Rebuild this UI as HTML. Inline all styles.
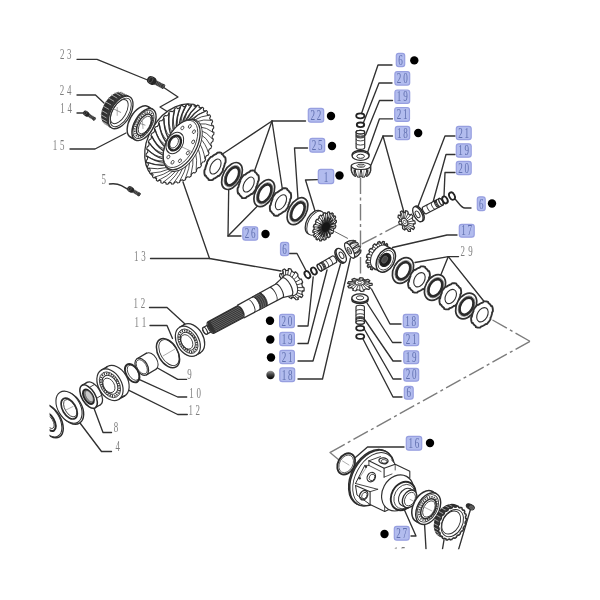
<!DOCTYPE html>
<html><head><meta charset="utf-8"><title>Differential exploded view</title>
<style>
html,body{margin:0;padding:0;background:#fff;}
body{width:600px;height:600px;overflow:hidden;font-family:"Liberation Serif",serif;}
svg{display:block;}
</style></head>
<body>
<svg width="600" height="600" viewBox="0 0 600 600">
<defs><filter id="soft" x="0" y="0" width="600" height="600" filterUnits="userSpaceOnUse"><feGaussianBlur stdDeviation="0.45"/></filter></defs>
<rect x="0" y="0" width="600" height="600" fill="#ffffff"/>
<g filter="url(#soft)">
<defs><clipPath id="cutl"><rect x="49.6" y="380" width="60" height="80"/></clipPath><clipPath id="cutb"><rect x="380" y="500" width="120" height="49.3"/></clipPath><clipPath id="cutall"><rect x="0" y="0" width="600" height="549.3"/></clipPath></defs>
<g clip-path="url(#cutall)">
<polyline points="77,59.3 97,59.3 150,81" fill="none" stroke="#303030" stroke-width="1.35" stroke-linejoin="round" stroke-linecap="round" />
<polyline points="163,87 178,97 160,107 168,112" fill="none" stroke="#303030" stroke-width="1.35" stroke-linejoin="round" stroke-linecap="round" />
<polyline points="77,95 95.5,95 104,103" fill="none" stroke="#303030" stroke-width="1.35" stroke-linejoin="round" stroke-linecap="round" />
<polyline points="77,113 84,113" fill="none" stroke="#303030" stroke-width="1.35" stroke-linejoin="round" stroke-linecap="round" />
<polyline points="70,149 95,149 126,133" fill="none" stroke="#303030" stroke-width="1.35" stroke-linejoin="round" stroke-linecap="round" />
<path d="M109.4,184 C114,183.4 118,183.8 121.4,185.6 L128,189.4" fill="none" stroke="#303030" stroke-width="1.35" stroke-linejoin="round" stroke-linecap="round" />
<polyline points="183,182 209.5,258.5" fill="none" stroke="#303030" stroke-width="1.35" stroke-linejoin="round" stroke-linecap="round" />
<polyline points="150.5,258.5 209.5,258.5 281,271" fill="none" stroke="#303030" stroke-width="1.35" stroke-linejoin="round" stroke-linecap="round" />
<polyline points="149.5,307.5 167,307.5 185,324" fill="none" stroke="#303030" stroke-width="1.35" stroke-linejoin="round" stroke-linecap="round" />
<polyline points="150,325.5 167,325.5 172.5,338.5" fill="none" stroke="#303030" stroke-width="1.35" stroke-linejoin="round" stroke-linecap="round" />
<polyline points="157.5,368 177.7,379.3 186.6,379.3" fill="none" stroke="#303030" stroke-width="1.35" stroke-linejoin="round" stroke-linecap="round" />
<polyline points="139,379.3 177.7,397 186.7,397" fill="none" stroke="#303030" stroke-width="1.35" stroke-linejoin="round" stroke-linecap="round" />
<polyline points="128,389.9 177.7,414.5 187.3,414.5" fill="none" stroke="#303030" stroke-width="1.35" stroke-linejoin="round" stroke-linecap="round" />
<polyline points="93.5,407 103,432.5 111.5,432.5" fill="none" stroke="#303030" stroke-width="1.35" stroke-linejoin="round" stroke-linecap="round" />
<polyline points="80,423 101.5,451.5 111.5,451.5" fill="none" stroke="#303030" stroke-width="1.35" stroke-linejoin="round" stroke-linecap="round" />
<polyline points="305.5,121 272,121 222.5,154" fill="none" stroke="#303030" stroke-width="1.35" stroke-linejoin="round" stroke-linecap="round" />
<polyline points="272,121 254.5,171" fill="none" stroke="#303030" stroke-width="1.35" stroke-linejoin="round" stroke-linecap="round" />
<polyline points="272,121 282.5,190" fill="none" stroke="#303030" stroke-width="1.35" stroke-linejoin="round" stroke-linecap="round" />
<polyline points="307.5,148 294.5,148 298,199" fill="none" stroke="#303030" stroke-width="1.35" stroke-linejoin="round" stroke-linecap="round" />
<polyline points="317.5,179.7 305.5,180 315,211" fill="none" stroke="#303030" stroke-width="1.35" stroke-linejoin="round" stroke-linecap="round" />
<polyline points="241,236 228,236 228.7,189" fill="none" stroke="#303030" stroke-width="1.35" stroke-linejoin="round" stroke-linecap="round" />
<polyline points="228,236 257.5,206" fill="none" stroke="#303030" stroke-width="1.35" stroke-linejoin="round" stroke-linecap="round" />
<polyline points="289.5,253.5 297,253.5 307,272.5" fill="none" stroke="#303030" stroke-width="1.35" stroke-linejoin="round" stroke-linecap="round" />
<polyline points="298,326 308,326 313.2,277" fill="none" stroke="#303030" stroke-width="1.35" stroke-linejoin="round" stroke-linecap="round" />
<polyline points="298,343.5 308,343.5 327,270" fill="none" stroke="#303030" stroke-width="1.35" stroke-linejoin="round" stroke-linecap="round" />
<polyline points="298,361 313,361 340.5,264" fill="none" stroke="#303030" stroke-width="1.35" stroke-linejoin="round" stroke-linecap="round" />
<polyline points="298,379 322.5,379 350.5,258" fill="none" stroke="#303030" stroke-width="1.35" stroke-linejoin="round" stroke-linecap="round" />
<polyline points="371.5,289 390,324 401,324" fill="none" stroke="#303030" stroke-width="1.35" stroke-linejoin="round" stroke-linecap="round" />
<polyline points="367,303 392.5,342.5 401,342.5" fill="none" stroke="#303030" stroke-width="1.35" stroke-linejoin="round" stroke-linecap="round" />
<polyline points="365,320 393,361 401,361" fill="none" stroke="#303030" stroke-width="1.35" stroke-linejoin="round" stroke-linecap="round" />
<polyline points="364.5,329.5 393,379 401,379" fill="none" stroke="#303030" stroke-width="1.35" stroke-linejoin="round" stroke-linecap="round" />
<polyline points="362.5,338 393,397 402,397" fill="none" stroke="#303030" stroke-width="1.35" stroke-linejoin="round" stroke-linecap="round" />
<polyline points="392,65 378,65 361.5,113.5" fill="none" stroke="#303030" stroke-width="1.35" stroke-linejoin="round" stroke-linecap="round" />
<polyline points="392,83 379,83 363.5,122.5" fill="none" stroke="#303030" stroke-width="1.35" stroke-linejoin="round" stroke-linecap="round" />
<polyline points="392.5,100.5 379.5,100.5 365.5,135" fill="none" stroke="#303030" stroke-width="1.35" stroke-linejoin="round" stroke-linecap="round" />
<polyline points="392.5,118.8 379.5,118.8 367.5,152.5" fill="none" stroke="#303030" stroke-width="1.35" stroke-linejoin="round" stroke-linecap="round" />
<polyline points="392.5,136 383,136 371,165" fill="none" stroke="#303030" stroke-width="1.35" stroke-linejoin="round" stroke-linecap="round" />
<polyline points="383,136 404,212.5" fill="none" stroke="#303030" stroke-width="1.35" stroke-linejoin="round" stroke-linecap="round" />
<polyline points="455,136 445,136 417,209" fill="none" stroke="#303030" stroke-width="1.35" stroke-linejoin="round" stroke-linecap="round" />
<polyline points="455,154.5 446,154.5 432.5,204" fill="none" stroke="#303030" stroke-width="1.35" stroke-linejoin="round" stroke-linecap="round" />
<polyline points="455,172.5 445,172.5 444,196" fill="none" stroke="#303030" stroke-width="1.35" stroke-linejoin="round" stroke-linecap="round" />
<path d="M455.5,199.5 C459,203 461,208 465,208 L471,208" fill="none" stroke="#303030" stroke-width="1.35" stroke-linejoin="round" stroke-linecap="round" />
<polyline points="457,235 447,235 392.5,247.5" fill="none" stroke="#303030" stroke-width="1.35" stroke-linejoin="round" stroke-linecap="round" />
<polyline points="458.5,256.6 448.3,256.6 415,262.5" fill="none" stroke="#303030" stroke-width="1.35" stroke-linejoin="round" stroke-linecap="round" />
<polyline points="448.3,256.6 441,274.5" fill="none" stroke="#303030" stroke-width="1.35" stroke-linejoin="round" stroke-linecap="round" />
<polyline points="448.3,256.6 484.5,302" fill="none" stroke="#303030" stroke-width="1.35" stroke-linejoin="round" stroke-linecap="round" />
<polyline points="404,447 367.5,447 352.5,460" fill="none" stroke="#303030" stroke-width="1.35" stroke-linejoin="round" stroke-linecap="round" />
<polyline points="411,536 416,536 404,509" fill="none" stroke="#303030" stroke-width="1.35" stroke-linejoin="round" stroke-linecap="round" />
<polyline points="424.5,523 426,549" fill="none" stroke="#303030" stroke-width="1.35" stroke-linejoin="round" stroke-linecap="round" />
<polyline points="444,540 442.5,549" fill="none" stroke="#303030" stroke-width="1.35" stroke-linejoin="round" stroke-linecap="round" />
<polyline points="470.3,510 458.5,549.6" fill="none" stroke="#303030" stroke-width="1.35" stroke-linejoin="round" stroke-linecap="round" />
<polyline points="360.5,177.5 360.5,278" fill="none" stroke="#7c7c7c" stroke-width="1.4" stroke-linejoin="round" stroke-linecap="butt" stroke-dasharray="16.5 3.5 3 3.5"/>
<polyline points="400,224 361.5,244.2" fill="none" stroke="#7c7c7c" stroke-width="1.4" stroke-linejoin="round" stroke-linecap="butt" stroke-dasharray="16.5 3.5 3 3.5"/>
<polyline points="335,231.7 347.5,238.3" fill="none" stroke="#555" stroke-width="0.9" stroke-linejoin="round" stroke-linecap="round" />
<polyline points="492.5,320 530,341.3" fill="none" stroke="#7c7c7c" stroke-width="1.4" stroke-linejoin="round" stroke-linecap="butt" stroke-dasharray="16.5 3.5 3 3.5"/>
<polyline points="530,341.3 330,452.5" fill="none" stroke="#7c7c7c" stroke-width="1.4" stroke-linejoin="round" stroke-linecap="butt" stroke-dasharray="16.5 3.5 3 3.5"/>
<polyline points="330,452.5 339,460" fill="none" stroke="#7c7c7c" stroke-width="1.3" stroke-linejoin="round" stroke-linecap="round" />
<ellipse cx="177.77" cy="142.86" rx="29.3" ry="41.8" transform="rotate(31 177.77 142.86)" fill="#fff" stroke="#303030" stroke-width="1.3" />
<polyline points="205.62,159.59 204.96,160.66 204.28,161.72 202.61,161.99 201.92,162.98 201.22,163.94 201.37,165.78 200.59,166.75 199.8,167.71 198.21,167.63 197.42,168.51 196.61,169.36 196.47,171.31 195.6,172.16 194.72,172.98 193.26,172.56 192.39,173.3 191.51,174.02 191.07,176.02 190.14,176.72 189.19,177.38 187.9,176.63 186.98,177.21 186.05,177.77 185.34,179.76 184.36,180.28 183.38,180.78 182.3,179.71 181.36,180.12 180.41,180.5 179.44,182.42 178.46,182.76 177.47,183.06 176.63,181.71 175.7,181.94 174.76,182.13 173.56,183.92 172.6,184.06 171.64,184.16 171.07,182.58 170.16,182.61 169.27,182.6 167.88,184.22 166.96,184.15 166.06,184.04 165.78,182.27 164.93,182.11 164.1,181.91 162.56,183.29 161.73,183.02 160.9,182.72 160.92,180.81 160.16,180.46 159.42,180.07 157.78,181.18 157.04,180.72 156.33,180.23 156.63,178.24 155.99,177.71 155.36,177.15 153.67,177.95 153.06,177.31 152.47,176.64 153.06,174.63 152.54,173.94 152.05,173.22 150.36,173.69 149.89,172.89 149.45,172.06 150.31,170.1 149.94,169.27 149.59,168.41 147.95,168.53 147.64,167.6 147.36,166.64 148.46,164.78 148.24,163.83 148.05,162.86 146.51,162.64 146.37,161.59 146.26,160.54 147.57,158.84 147.51,157.8 147.49,156.75 146.09,156.18 146.12,155.06 146.18,153.94 147.66,152.45 147.77,151.36 147.91,150.25 146.7,149.36 146.91,148.2 147.13,147.04 148.73,145.81 149.01,144.69 149.31,143.58 148.33,142.38 148.69,141.22 149.09,140.06 150.76,139.12 151.19,138.02 151.64,136.92 150.91,135.46 151.43,134.33 151.98,133.21 153.67,132.59 154.24,131.53 154.83,130.48 154.38,128.81 155.04,127.74 155.72,126.68 157.39,126.41 158.08,125.42 158.78,124.46 158.63,122.62 159.41,121.65 160.2,120.69 161.79,120.77 162.58,119.89 163.39,119.04 163.53,117.09 164.4,116.24 165.28,115.42 166.74,115.84 167.61,115.1 168.49,114.38 168.93,112.38 169.86,111.68 170.81,111.02 172.1,111.77 173.02,111.19 173.95,110.63 174.66,108.64 175.64,108.12 176.62,107.62 177.7,108.69 178.64,108.28 179.59,107.9 180.56,105.98 181.54,105.64 182.53,105.34 183.37,106.69 184.3,106.46 185.24,106.27 186.44,104.48 187.4,104.34 188.36,104.24 188.93,105.82 189.84,105.79 190.73,105.8 192.12,104.18 193.04,104.25 193.94,104.36 194.22,106.13 195.07,106.29 195.9,106.49 197.44,105.11 198.27,105.38 199.1,105.68 199.08,107.59 199.84,107.94 200.58,108.33 202.22,107.22 202.96,107.68 203.67,108.17 203.37,110.16 204.01,110.69 204.64,111.25 206.33,110.45 206.94,111.09 207.53,111.76 206.94,113.77 207.46,114.46 207.95,115.18 209.64,114.71 210.11,115.51 210.55,116.34 209.69,118.3 210.06,119.13 210.41,119.99 212.05,119.87 212.36,120.8 212.64,121.76 211.54,123.62 211.76,124.57 211.95,125.54 213.49,125.76 213.63,126.81 213.74,127.86 212.43,129.56 212.49,130.6 212.51,131.65 213.91,132.22 213.88,133.34 213.82,134.46 212.34,135.95 212.23,137.04 212.09,138.15 213.3,139.04 213.09,140.2 212.87,141.36 211.27,142.59 210.99,143.71 210.69,144.82 211.67,146.02 211.31,147.18 210.91,148.34 209.24,149.28 208.81,150.38 208.36,151.48 209.09,152.94 208.57,154.07 208.02,155.19 206.33,155.81 205.76,156.87 205.17,157.92 205.62,159.59" fill="#fff" stroke="#303030" stroke-width="1.1" stroke-linejoin="round" stroke-linecap="round" />
<path d="M195.49,152.14 Q197.52,159.27 196.16,170.21" fill="none" stroke="#303030" stroke-width="0.85" stroke-linejoin="round" stroke-linecap="round" />
<path d="M192.94,156.33 Q193.78,163.96 190.94,174.83" fill="none" stroke="#303030" stroke-width="0.85" stroke-linejoin="round" stroke-linecap="round" />
<path d="M190.05,160.16 Q189.65,168.06 185.4,178.52" fill="none" stroke="#303030" stroke-width="0.85" stroke-linejoin="round" stroke-linecap="round" />
<path d="M186.9,163.52 Q185.24,171.43 179.69,181.17" fill="none" stroke="#303030" stroke-width="0.85" stroke-linejoin="round" stroke-linecap="round" />
<path d="M183.59,166.31 Q180.7,173.99 173.99,182.7" fill="none" stroke="#303030" stroke-width="0.85" stroke-linejoin="round" stroke-linecap="round" />
<path d="M180.22,168.43 Q176.17,175.64 168.47,183.05" fill="none" stroke="#303030" stroke-width="0.85" stroke-linejoin="round" stroke-linecap="round" />
<path d="M176.89,169.83 Q171.77,176.35 163.31,182.23" fill="none" stroke="#303030" stroke-width="0.85" stroke-linejoin="round" stroke-linecap="round" />
<path d="M173.7,170.47 Q167.65,176.09 158.65,180.25" fill="none" stroke="#303030" stroke-width="0.85" stroke-linejoin="round" stroke-linecap="round" />
<path d="M170.76,170.32 Q163.93,174.86 154.63,177.17" fill="none" stroke="#303030" stroke-width="0.85" stroke-linejoin="round" stroke-linecap="round" />
<path d="M168.14,169.38 Q160.72,172.71 151.39,173.1" fill="none" stroke="#303030" stroke-width="0.85" stroke-linejoin="round" stroke-linecap="round" />
<path d="M165.94,167.7 Q158.13,169.69 149.02,168.14" fill="none" stroke="#303030" stroke-width="0.92" stroke-linejoin="round" stroke-linecap="round" />
<path d="M164.21,165.31 Q156.22,165.91 147.59,162.46" fill="none" stroke="#303030" stroke-width="1.04" stroke-linejoin="round" stroke-linecap="round" />
<path d="M163.62,164.09 Q156.22,165.91 147.59,162.46" fill="none" stroke="#303030" stroke-width="0.8" stroke-linejoin="round" stroke-linecap="round" />
<path d="M163,162.29 Q155.05,161.48 147.15,156.22" fill="none" stroke="#303030" stroke-width="1.16" stroke-linejoin="round" stroke-linecap="round" />
<path d="M162.66,160.83 Q155.05,161.48 147.15,156.22" fill="none" stroke="#303030" stroke-width="0.8" stroke-linejoin="round" stroke-linecap="round" />
<path d="M162.37,158.74 Q154.67,156.52 147.7,149.62" fill="none" stroke="#303030" stroke-width="1.27" stroke-linejoin="round" stroke-linecap="round" />
<path d="M162.27,157.07 Q154.67,156.52 147.7,149.62" fill="none" stroke="#303030" stroke-width="0.8" stroke-linejoin="round" stroke-linecap="round" />
<path d="M162.31,154.75 Q155.09,151.2 149.24,142.85" fill="none" stroke="#303030" stroke-width="1.37" stroke-linejoin="round" stroke-linecap="round" />
<path d="M162.47,152.94 Q155.09,151.2 149.24,142.85" fill="none" stroke="#303030" stroke-width="0.8" stroke-linejoin="round" stroke-linecap="round" />
<path d="M162.85,150.46 Q156.28,145.67 151.7,136.12" fill="none" stroke="#303030" stroke-width="1.4" stroke-linejoin="round" stroke-linecap="round" />
<path d="M163.25,148.56 Q156.28,145.67 151.7,136.12" fill="none" stroke="#303030" stroke-width="0.8" stroke-linejoin="round" stroke-linecap="round" />
<path d="M163.95,145.99 Q158.22,140.1 155.03,129.64" fill="none" stroke="#303030" stroke-width="1.4" stroke-linejoin="round" stroke-linecap="round" />
<path d="M164.59,144.05 Q158.22,140.1 155.03,129.64" fill="none" stroke="#303030" stroke-width="0.8" stroke-linejoin="round" stroke-linecap="round" />
<path d="M165.59,141.48 Q160.85,134.67 159.12,123.6" fill="none" stroke="#303030" stroke-width="1.4" stroke-linejoin="round" stroke-linecap="round" />
<path d="M166.45,139.56 Q160.85,134.67 159.12,123.6" fill="none" stroke="#303030" stroke-width="0.8" stroke-linejoin="round" stroke-linecap="round" />
<path d="M167.71,137.06 Q164.08,129.53 163.84,118.19" fill="none" stroke="#303030" stroke-width="1.4" stroke-linejoin="round" stroke-linecap="round" />
<path d="M168.76,135.23 Q164.08,129.53 163.84,118.19" fill="none" stroke="#303030" stroke-width="0.8" stroke-linejoin="round" stroke-linecap="round" />
<path d="M170.26,132.87 Q167.82,124.84 169.06,113.57" fill="none" stroke="#303030" stroke-width="1.4" stroke-linejoin="round" stroke-linecap="round" />
<path d="M171.47,131.17 Q167.82,124.84 169.06,113.57" fill="none" stroke="#303030" stroke-width="0.8" stroke-linejoin="round" stroke-linecap="round" />
<path d="M173.15,129.04 Q171.95,120.74 174.6,109.88" fill="none" stroke="#303030" stroke-width="1.4" stroke-linejoin="round" stroke-linecap="round" />
<path d="M174.48,127.53 Q171.95,120.74 174.6,109.88" fill="none" stroke="#303030" stroke-width="0.8" stroke-linejoin="round" stroke-linecap="round" />
<path d="M176.3,125.68 Q176.36,117.37 180.31,107.23" fill="none" stroke="#303030" stroke-width="1.4" stroke-linejoin="round" stroke-linecap="round" />
<path d="M177.71,124.41 Q176.36,117.37 180.31,107.23" fill="none" stroke="#303030" stroke-width="0.8" stroke-linejoin="round" stroke-linecap="round" />
<path d="M179.61,122.89 Q180.9,114.81 186.01,105.7" fill="none" stroke="#303030" stroke-width="1.4" stroke-linejoin="round" stroke-linecap="round" />
<path d="M181.06,121.9 Q180.9,114.81 186.01,105.7" fill="none" stroke="#303030" stroke-width="0.8" stroke-linejoin="round" stroke-linecap="round" />
<path d="M182.98,120.77 Q185.43,113.16 191.53,105.35" fill="none" stroke="#303030" stroke-width="1.36" stroke-linejoin="round" stroke-linecap="round" />
<path d="M184.42,120.08 Q185.43,113.16 191.53,105.35" fill="none" stroke="#303030" stroke-width="0.8" stroke-linejoin="round" stroke-linecap="round" />
<path d="M186.31,119.37 Q189.83,112.45 196.69,106.17" fill="none" stroke="#303030" stroke-width="1.26" stroke-linejoin="round" stroke-linecap="round" />
<path d="M187.7,119 Q189.83,112.45 196.69,106.17" fill="none" stroke="#303030" stroke-width="0.8" stroke-linejoin="round" stroke-linecap="round" />
<path d="M189.5,118.73 Q193.95,112.71 201.35,108.15" fill="none" stroke="#303030" stroke-width="1.15" stroke-linejoin="round" stroke-linecap="round" />
<path d="M190.8,118.7 Q193.95,112.71 201.35,108.15" fill="none" stroke="#303030" stroke-width="0.8" stroke-linejoin="round" stroke-linecap="round" />
<path d="M192.44,118.88 Q197.67,113.94 205.37,111.23" fill="none" stroke="#303030" stroke-width="1.03" stroke-linejoin="round" stroke-linecap="round" />
<path d="M193.61,119.19 Q197.67,113.94 205.37,111.23" fill="none" stroke="#303030" stroke-width="0.8" stroke-linejoin="round" stroke-linecap="round" />
<path d="M195.06,119.82 Q200.88,116.09 208.61,115.3" fill="none" stroke="#303030" stroke-width="0.91" stroke-linejoin="round" stroke-linecap="round" />
<path d="M197.26,121.5 Q203.47,119.11 210.98,120.26" fill="none" stroke="#303030" stroke-width="0.85" stroke-linejoin="round" stroke-linecap="round" />
<path d="M198.99,123.89 Q205.38,122.89 212.41,125.94" fill="none" stroke="#303030" stroke-width="0.85" stroke-linejoin="round" stroke-linecap="round" />
<path d="M200.2,126.91 Q206.55,127.32 212.85,132.18" fill="none" stroke="#303030" stroke-width="0.85" stroke-linejoin="round" stroke-linecap="round" />
<path d="M200.83,130.46 Q206.93,132.28 212.3,138.78" fill="none" stroke="#303030" stroke-width="0.85" stroke-linejoin="round" stroke-linecap="round" />
<path d="M200.89,134.45 Q206.51,137.6 210.76,145.55" fill="none" stroke="#303030" stroke-width="0.85" stroke-linejoin="round" stroke-linecap="round" />
<path d="M200.35,138.74 Q205.32,143.13 208.3,152.28" fill="none" stroke="#303030" stroke-width="0.85" stroke-linejoin="round" stroke-linecap="round" />
<path d="M199.25,143.21 Q203.38,148.7 204.97,158.76" fill="none" stroke="#303030" stroke-width="0.85" stroke-linejoin="round" stroke-linecap="round" />
<path d="M197.61,147.72 Q200.75,154.13 200.88,164.8" fill="none" stroke="#303030" stroke-width="0.85" stroke-linejoin="round" stroke-linecap="round" />
<ellipse cx="182.97" cy="145.42" rx="15.6" ry="28.4" transform="rotate(28.5 182.97 145.42)" fill="#fff" stroke="#303030" stroke-width="0.9" />
<ellipse cx="181.6" cy="144.6" rx="15" ry="27.4" transform="rotate(28.5 181.6 144.6)" fill="#fff" stroke="#303030" stroke-width="1.3" />
<ellipse cx="180.49" cy="143.93" rx="13.8" ry="25.8" transform="rotate(28.5 180.49 143.93)" fill="none" stroke="#303030" stroke-width="0.8" />
<ellipse cx="187.84" cy="152.93" rx="1.3" ry="2" transform="rotate(28.5 187.84 152.93)" fill="none" stroke="#303030" stroke-width="0.8" />
<ellipse cx="179.94" cy="160.75" rx="1.3" ry="2" transform="rotate(28.5 179.94 160.75)" fill="none" stroke="#303030" stroke-width="0.8" />
<ellipse cx="172.51" cy="162.3" rx="1.3" ry="2" transform="rotate(28.5 172.51 162.3)" fill="none" stroke="#303030" stroke-width="0.8" />
<ellipse cx="168.39" cy="156.99" rx="1.3" ry="2" transform="rotate(28.5 168.39 156.99)" fill="none" stroke="#303030" stroke-width="0.8" />
<ellipse cx="169.15" cy="146.86" rx="1.3" ry="2" transform="rotate(28.5 169.15 146.86)" fill="none" stroke="#303030" stroke-width="0.8" />
<ellipse cx="174.51" cy="135.76" rx="1.3" ry="2" transform="rotate(28.5 174.51 135.76)" fill="none" stroke="#303030" stroke-width="0.8" />
<ellipse cx="182.4" cy="127.94" rx="1.3" ry="2" transform="rotate(28.5 182.4 127.94)" fill="none" stroke="#303030" stroke-width="0.8" />
<ellipse cx="189.83" cy="126.39" rx="1.3" ry="2" transform="rotate(28.5 189.83 126.39)" fill="none" stroke="#303030" stroke-width="0.8" />
<ellipse cx="193.95" cy="131.69" rx="1.3" ry="2" transform="rotate(28.5 193.95 131.69)" fill="none" stroke="#303030" stroke-width="0.8" />
<ellipse cx="193.19" cy="141.83" rx="1.3" ry="2" transform="rotate(28.5 193.19 141.83)" fill="none" stroke="#303030" stroke-width="0.8" />
<ellipse cx="174.8" cy="143" rx="8" ry="11.4" transform="rotate(28.5 174.8 143)" fill="#fff" stroke="#303030" stroke-width="1" />
<ellipse cx="174.8" cy="143" rx="5.6" ry="7.8" transform="rotate(28.5 174.8 143)" fill="#fff" stroke="#262626" stroke-width="2.4" />
<ellipse cx="174.11" cy="142.59" rx="3.8" ry="5.8" transform="rotate(28.5 174.11 142.59)" fill="none" stroke="#303030" stroke-width="0.8" />
<polyline points="178.8,145.5 192.8,152" fill="none" stroke="#666" stroke-width="0.6" stroke-linejoin="round" stroke-linecap="round" />
<ellipse cx="113.77" cy="108.4" rx="9.7" ry="17.2" transform="rotate(30 113.77 108.4)" fill="#2e2e2e" stroke="#303030" stroke-width="1.2" />
<ellipse cx="116.37" cy="109.9" rx="9.7" ry="17.6" transform="rotate(30 116.37 109.9)" fill="#333" stroke="#303030" stroke-width="1" />
<ellipse cx="118.53" cy="111.15" rx="9.7" ry="18" transform="rotate(30 118.53 111.15)" fill="#3a3a3a" stroke="#303030" stroke-width="1" />
<polyline points="103.96,123.51 109.16,126.51" fill="none" stroke="#b0b0b0" stroke-width="0.9" stroke-linejoin="round" stroke-linecap="round" />
<polyline points="102.14,121.51 107.34,124.51" fill="none" stroke="#b0b0b0" stroke-width="0.9" stroke-linejoin="round" stroke-linecap="round" />
<polyline points="101.13,118.53 106.33,121.53" fill="none" stroke="#b0b0b0" stroke-width="0.9" stroke-linejoin="round" stroke-linecap="round" />
<polyline points="101,114.8 106.19,117.8" fill="none" stroke="#b0b0b0" stroke-width="0.9" stroke-linejoin="round" stroke-linecap="round" />
<polyline points="101.76,110.57 106.95,113.57" fill="none" stroke="#b0b0b0" stroke-width="0.9" stroke-linejoin="round" stroke-linecap="round" />
<polyline points="103.35,106.17 108.55,109.17" fill="none" stroke="#b0b0b0" stroke-width="0.9" stroke-linejoin="round" stroke-linecap="round" />
<polyline points="105.67,101.91 110.86,104.91" fill="none" stroke="#b0b0b0" stroke-width="0.9" stroke-linejoin="round" stroke-linecap="round" />
<polyline points="108.54,98.1 113.73,101.1" fill="none" stroke="#b0b0b0" stroke-width="0.9" stroke-linejoin="round" stroke-linecap="round" />
<polyline points="111.75,95.01 116.94,98.01" fill="none" stroke="#b0b0b0" stroke-width="0.9" stroke-linejoin="round" stroke-linecap="round" />
<polyline points="115.07,92.88 120.26,95.88" fill="none" stroke="#b0b0b0" stroke-width="0.9" stroke-linejoin="round" stroke-linecap="round" />
<polyline points="118.25,91.86 123.45,94.86" fill="none" stroke="#b0b0b0" stroke-width="0.9" stroke-linejoin="round" stroke-linecap="round" />
<polyline points="121.08,92.01 126.27,95.01" fill="none" stroke="#b0b0b0" stroke-width="0.9" stroke-linejoin="round" stroke-linecap="round" />
<ellipse cx="120.7" cy="112.4" rx="9.7" ry="18" transform="rotate(30 120.7 112.4)" fill="#fff" stroke="#303030" stroke-width="1.3" />
<ellipse cx="120.7" cy="112.4" rx="8.1" ry="15.8" transform="rotate(30 120.7 112.4)" fill="none" stroke="#303030" stroke-width="0.9" />
<ellipse cx="119.31" cy="111.6" rx="6.7" ry="13.4" transform="rotate(30 119.31 111.6)" fill="none" stroke="#303030" stroke-width="0.9" />
<path d="M120.7,112.4 l-7,-3.5" fill="none" stroke="#666" stroke-width="0.7" stroke-linejoin="round" stroke-linecap="round" />
<path d="M117.2,107.4 l0,8" fill="none" stroke="#777" stroke-width="0.6" stroke-linejoin="round" stroke-linecap="round" />
<ellipse cx="139.24" cy="121.85" rx="9.6" ry="17.6" transform="rotate(30 139.24 121.85)" fill="#fff" stroke="#303030" stroke-width="1.4" />
<polyline points="130.44,137.09 135.2,139.84" fill="none" stroke="#303030" stroke-width="1.35" stroke-linejoin="round" stroke-linecap="round" />
<polyline points="148.04,106.61 152.8,109.36" fill="none" stroke="#303030" stroke-width="1.35" stroke-linejoin="round" stroke-linecap="round" />
<ellipse cx="144" cy="124.6" rx="9.6" ry="17.6" transform="rotate(30 144 124.6)" fill="#fff" stroke="#303030" stroke-width="1.4" />
<ellipse cx="143.48" cy="124.3" rx="8.2" ry="15.6" transform="rotate(30 143.48 124.3)" fill="none" stroke="#303030" stroke-width="0.9" />
<ellipse cx="143.74" cy="124.45" rx="7.1" ry="13.6" transform="rotate(30 143.74 124.45)" fill="none" stroke="#444" stroke-width="1.7" stroke-dasharray="1.3 1.1"/>
<ellipse cx="144.26" cy="124.75" rx="6" ry="11.8" transform="rotate(30 144.26 124.75)" fill="#fff" stroke="#2e2e2e" stroke-width="1.5" />
<ellipse cx="144.69" cy="125" rx="4.8" ry="9.8" transform="rotate(30 144.69 125)" fill="none" stroke="#303030" stroke-width="0.8" />
<path d="M145,125.1 l-6,-2" fill="none" stroke="#666" stroke-width="0.7" stroke-linejoin="round" stroke-linecap="round" />
<path d="M142.5,121.6 l0.5,7" fill="none" stroke="#777" stroke-width="0.6" stroke-linejoin="round" stroke-linecap="round" />
<polyline points="151.7,80.5 163.22,86.49" fill="none" stroke="#343434" stroke-width="4.4" stroke-linejoin="round" stroke-linecap="butt" />
<polyline points="157.33,80.95 155.3,84.85" fill="none" stroke="#8c8c8c" stroke-width="0.5" stroke-linejoin="round" stroke-linecap="round" />
<polyline points="158.84,81.73 156.81,85.64" fill="none" stroke="#8c8c8c" stroke-width="0.5" stroke-linejoin="round" stroke-linecap="round" />
<polyline points="160.35,82.52 158.32,86.42" fill="none" stroke="#8c8c8c" stroke-width="0.5" stroke-linejoin="round" stroke-linecap="round" />
<polyline points="161.85,83.3 159.82,87.2" fill="none" stroke="#8c8c8c" stroke-width="0.5" stroke-linejoin="round" stroke-linecap="round" />
<polyline points="163.36,84.08 161.33,87.99" fill="none" stroke="#8c8c8c" stroke-width="0.5" stroke-linejoin="round" stroke-linecap="round" />
<ellipse cx="163.22" cy="86.49" rx="1.21" ry="2.2" transform="rotate(27.47 163.22 86.49)" fill="#555" stroke="#2a2a2a" stroke-width="0.8" />
<polyline points="150.99,80.13 152.41,80.87" fill="none" stroke="#262626" stroke-width="8" stroke-linejoin="round" stroke-linecap="round" />
<ellipse cx="150.81" cy="80.04" rx="1.8" ry="3.2" transform="rotate(27.47 150.81 80.04)" fill="none" stroke="#6a6a6a" stroke-width="0.6" />
<polyline points="86.2,113.6 94.33,118.96" fill="none" stroke="#343434" stroke-width="3.2" stroke-linejoin="round" stroke-linecap="butt" />
<polyline points="90.17,114.3 88.41,116.97" fill="none" stroke="#8c8c8c" stroke-width="0.5" stroke-linejoin="round" stroke-linecap="round" />
<polyline points="91.59,115.24 89.83,117.91" fill="none" stroke="#8c8c8c" stroke-width="0.5" stroke-linejoin="round" stroke-linecap="round" />
<polyline points="93.01,116.17 91.25,118.84" fill="none" stroke="#8c8c8c" stroke-width="0.5" stroke-linejoin="round" stroke-linecap="round" />
<polyline points="94.43,117.11 92.67,119.78" fill="none" stroke="#8c8c8c" stroke-width="0.5" stroke-linejoin="round" stroke-linecap="round" />
<ellipse cx="94.33" cy="118.96" rx="0.88" ry="1.6" transform="rotate(33.39 94.33 118.96)" fill="#555" stroke="#2a2a2a" stroke-width="0.8" />
<polyline points="85.53,113.16 86.87,114.04" fill="none" stroke="#262626" stroke-width="5" stroke-linejoin="round" stroke-linecap="round" />
<ellipse cx="85.37" cy="113.05" rx="1.12" ry="2" transform="rotate(33.39 85.37 113.05)" fill="none" stroke="#6a6a6a" stroke-width="0.6" />
<polyline points="130.6,189.4 139.17,194.47" fill="none" stroke="#343434" stroke-width="3.4" stroke-linejoin="round" stroke-linecap="butt" />
<polyline points="134.91,189.97 133.18,192.9" fill="none" stroke="#8c8c8c" stroke-width="0.5" stroke-linejoin="round" stroke-linecap="round" />
<polyline points="136.37,190.84 134.64,193.76" fill="none" stroke="#8c8c8c" stroke-width="0.5" stroke-linejoin="round" stroke-linecap="round" />
<polyline points="137.83,191.7 136.1,194.63" fill="none" stroke="#8c8c8c" stroke-width="0.5" stroke-linejoin="round" stroke-linecap="round" />
<polyline points="139.3,192.57 137.57,195.5" fill="none" stroke="#8c8c8c" stroke-width="0.5" stroke-linejoin="round" stroke-linecap="round" />
<ellipse cx="139.17" cy="194.47" rx="0.94" ry="1.7" transform="rotate(30.6 139.17 194.47)" fill="#555" stroke="#2a2a2a" stroke-width="0.8" />
<polyline points="129.91,188.99 131.29,189.81" fill="none" stroke="#262626" stroke-width="5.6" stroke-linejoin="round" stroke-linecap="round" />
<ellipse cx="129.74" cy="188.89" rx="1.26" ry="2.24" transform="rotate(30.6 129.74 188.89)" fill="none" stroke="#6a6a6a" stroke-width="0.6" />
<polyline points="222.89,170.6 222.24,171.73 221.53,172.81 220.77,173.85 219.97,174.83 219.13,175.74 218.05,175.95 217.21,176.66 216.36,177.3 215.49,177.85 214.62,178.32 213.75,178.69 212.75,179.81 211.85,180.01 210.98,180.1 210.13,180.09 209.33,179.97 208.56,179.75 208.29,178.6 207.67,178.21 207.11,177.72 206.61,177.14 206.17,176.48 205.79,175.75 204.86,175.51 204.61,174.58 204.45,173.59 204.36,172.54 204.36,171.44 204.43,170.3 205.24,168.96 205.46,167.84 205.75,166.72 206.12,165.59 206.55,164.46 207.04,163.35 207.11,162 207.76,160.87 208.47,159.79 209.23,158.75 210.03,157.77 210.87,156.86 211.95,156.65 212.79,155.94 213.64,155.3 214.51,154.75 215.38,154.28 216.25,153.91 217.25,152.79 218.15,152.59 219.02,152.5 219.87,152.51 220.67,152.63 221.44,152.85 221.71,154 222.33,154.39 222.89,154.88 223.39,155.46 223.83,156.12 224.21,156.85 225.14,157.09 225.39,158.02 225.55,159.01 225.64,160.06 225.64,161.16 225.57,162.3 224.76,163.64 224.54,164.76 224.25,165.88 223.88,167.01 223.45,168.14 222.96,169.25 222.89,170.6" fill="#fff" stroke="#303030" stroke-width="1.9" stroke-linejoin="round" stroke-linecap="round" />
<ellipse cx="215.44" cy="166.54" rx="4.64" ry="8.15" transform="rotate(28.6 215.44 166.54)" fill="#fff" stroke="#303030" stroke-width="1.1" />
<ellipse cx="232" cy="176" rx="8.77" ry="14.59" transform="rotate(28.6 232 176)" fill="#fff" stroke="#303030" stroke-width="1.7" />
<ellipse cx="232.35" cy="176.19" rx="5.68" ry="9.87" transform="rotate(28.6 232.35 176.19)" fill="#fff" stroke="#2a2a2a" stroke-width="2.7" />
<ellipse cx="232.35" cy="176.19" rx="6.88" ry="11.73" transform="rotate(28.6 232.35 176.19)" fill="none" stroke="#666" stroke-width="0.6" />
<polyline points="256.09,188.6 255.44,189.73 254.73,190.81 253.97,191.85 253.17,192.83 252.33,193.74 251.25,193.95 250.41,194.66 249.56,195.3 248.69,195.85 247.82,196.32 246.95,196.69 245.95,197.81 245.05,198.01 244.18,198.1 243.33,198.09 242.53,197.97 241.76,197.75 241.49,196.6 240.87,196.21 240.31,195.72 239.81,195.14 239.37,194.48 238.99,193.75 238.06,193.51 237.81,192.58 237.65,191.59 237.56,190.54 237.56,189.44 237.63,188.3 238.44,186.96 238.66,185.84 238.95,184.72 239.32,183.59 239.75,182.46 240.24,181.35 240.31,180 240.96,178.87 241.67,177.79 242.43,176.75 243.23,175.77 244.07,174.86 245.15,174.65 245.99,173.94 246.84,173.3 247.71,172.75 248.58,172.28 249.45,171.91 250.45,170.79 251.35,170.59 252.22,170.5 253.07,170.51 253.87,170.63 254.64,170.85 254.91,172 255.53,172.39 256.09,172.88 256.59,173.46 257.03,174.12 257.41,174.85 258.34,175.09 258.59,176.02 258.75,177.01 258.84,178.06 258.84,179.16 258.77,180.3 257.96,181.64 257.74,182.76 257.45,183.88 257.08,185.01 256.65,186.14 256.16,187.25 256.09,188.6" fill="#fff" stroke="#303030" stroke-width="1.9" stroke-linejoin="round" stroke-linecap="round" />
<ellipse cx="248.64" cy="184.54" rx="4.64" ry="8.15" transform="rotate(28.6 248.64 184.54)" fill="#fff" stroke="#303030" stroke-width="1.1" />
<ellipse cx="264.3" cy="193.2" rx="8.77" ry="14.59" transform="rotate(28.6 264.3 193.2)" fill="#fff" stroke="#303030" stroke-width="1.7" />
<ellipse cx="264.65" cy="193.39" rx="5.68" ry="9.87" transform="rotate(28.6 264.65 193.39)" fill="#fff" stroke="#2a2a2a" stroke-width="2.7" />
<ellipse cx="264.65" cy="193.39" rx="6.88" ry="11.73" transform="rotate(28.6 264.65 193.39)" fill="none" stroke="#666" stroke-width="0.6" />
<polyline points="288.39,206.3 287.74,207.43 287.03,208.51 286.27,209.55 285.47,210.53 284.63,211.44 283.55,211.65 282.71,212.36 281.86,213 280.99,213.55 280.12,214.02 279.25,214.39 278.25,215.51 277.35,215.71 276.48,215.8 275.63,215.79 274.83,215.67 274.06,215.45 273.79,214.3 273.17,213.91 272.61,213.42 272.11,212.84 271.67,212.18 271.29,211.45 270.36,211.21 270.11,210.28 269.95,209.29 269.86,208.24 269.86,207.14 269.93,206 270.74,204.66 270.96,203.54 271.25,202.42 271.62,201.29 272.05,200.16 272.54,199.05 272.61,197.7 273.26,196.57 273.97,195.49 274.73,194.45 275.53,193.47 276.37,192.56 277.45,192.35 278.29,191.64 279.14,191 280.01,190.45 280.88,189.98 281.75,189.61 282.75,188.49 283.65,188.29 284.52,188.2 285.37,188.21 286.17,188.33 286.94,188.55 287.21,189.7 287.83,190.09 288.39,190.58 288.89,191.16 289.33,191.82 289.71,192.55 290.64,192.79 290.89,193.72 291.05,194.71 291.14,195.76 291.14,196.86 291.07,198 290.26,199.34 290.04,200.46 289.75,201.58 289.38,202.71 288.95,203.84 288.46,204.95 288.39,206.3" fill="#fff" stroke="#303030" stroke-width="1.9" stroke-linejoin="round" stroke-linecap="round" />
<ellipse cx="280.94" cy="202.24" rx="4.64" ry="8.15" transform="rotate(28.6 280.94 202.24)" fill="#fff" stroke="#303030" stroke-width="1.1" />
<ellipse cx="297.5" cy="211.2" rx="8.77" ry="14.59" transform="rotate(28.6 297.5 211.2)" fill="#fff" stroke="#303030" stroke-width="1.7" />
<ellipse cx="297.85" cy="211.39" rx="5.68" ry="9.87" transform="rotate(28.6 297.85 211.39)" fill="#fff" stroke="#2a2a2a" stroke-width="2.7" />
<ellipse cx="297.85" cy="211.39" rx="6.88" ry="11.73" transform="rotate(28.6 297.85 211.39)" fill="none" stroke="#666" stroke-width="0.6" />
<ellipse cx="403" cy="270.5" rx="9.49" ry="13.67" transform="rotate(29.1 403 270.5)" fill="#fff" stroke="#303030" stroke-width="1.7" />
<ellipse cx="403.35" cy="270.69" rx="6.14" ry="9.25" transform="rotate(29.1 403.35 270.69)" fill="#fff" stroke="#2a2a2a" stroke-width="2.7" />
<ellipse cx="403.35" cy="270.69" rx="7.44" ry="10.99" transform="rotate(29.1 403.35 270.69)" fill="none" stroke="#666" stroke-width="0.6" />
<polyline points="427.49,284.23 426.87,285.27 426.18,286.28 425.44,287.23 424.65,288.13 423.82,288.95 422.7,289.08 421.86,289.71 421,290.27 420.12,290.75 419.23,291.14 418.34,291.44 417.35,292.46 416.42,292.59 415.5,292.61 414.62,292.54 413.77,292.37 412.96,292.1 412.61,290.97 411.94,290.54 411.33,290.03 410.77,289.44 410.27,288.77 409.85,288.03 408.86,287.73 408.55,286.81 408.32,285.83 408.18,284.81 408.12,283.74 408.14,282.65 408.91,281.4 409.08,280.33 409.33,279.26 409.65,278.19 410.05,277.13 410.51,276.08 410.51,274.77 411.13,273.73 411.82,272.72 412.56,271.77 413.35,270.87 414.18,270.05 415.3,269.92 416.14,269.29 417,268.73 417.88,268.25 418.77,267.86 419.66,267.56 420.65,266.54 421.58,266.41 422.5,266.39 423.38,266.46 424.23,266.63 425.04,266.9 425.39,268.03 426.06,268.46 426.67,268.97 427.23,269.56 427.73,270.23 428.15,270.97 429.14,271.27 429.45,272.19 429.68,273.17 429.82,274.19 429.88,275.26 429.86,276.35 429.09,277.6 428.92,278.67 428.67,279.74 428.35,280.81 427.95,281.87 427.49,282.92 427.49,284.23" fill="#fff" stroke="#303030" stroke-width="1.9" stroke-linejoin="round" stroke-linecap="round" />
<ellipse cx="419.44" cy="279.74" rx="5.02" ry="7.64" transform="rotate(29.1 419.44 279.74)" fill="#fff" stroke="#303030" stroke-width="1.1" />
<ellipse cx="435" cy="287.5" rx="9.49" ry="13.67" transform="rotate(29.1 435 287.5)" fill="#fff" stroke="#303030" stroke-width="1.7" />
<ellipse cx="435.35" cy="287.69" rx="6.14" ry="9.25" transform="rotate(29.1 435.35 287.69)" fill="#fff" stroke="#2a2a2a" stroke-width="2.7" />
<ellipse cx="435.35" cy="287.69" rx="7.44" ry="10.99" transform="rotate(29.1 435.35 287.69)" fill="none" stroke="#666" stroke-width="0.6" />
<polyline points="458.79,301.03 458.17,302.07 457.48,303.08 456.74,304.03 455.95,304.93 455.12,305.75 454,305.88 453.16,306.51 452.3,307.07 451.42,307.55 450.53,307.94 449.64,308.24 448.65,309.26 447.72,309.39 446.8,309.41 445.92,309.34 445.07,309.17 444.26,308.9 443.91,307.77 443.24,307.34 442.63,306.83 442.07,306.24 441.57,305.57 441.15,304.83 440.16,304.53 439.85,303.61 439.62,302.63 439.48,301.61 439.42,300.54 439.44,299.45 440.21,298.2 440.38,297.13 440.63,296.06 440.95,294.99 441.35,293.93 441.81,292.88 441.81,291.57 442.43,290.53 443.12,289.52 443.86,288.57 444.65,287.67 445.48,286.85 446.6,286.72 447.44,286.09 448.3,285.53 449.18,285.05 450.07,284.66 450.96,284.36 451.95,283.34 452.88,283.21 453.8,283.19 454.68,283.26 455.53,283.43 456.34,283.7 456.69,284.83 457.36,285.26 457.97,285.77 458.53,286.36 459.03,287.03 459.45,287.77 460.44,288.07 460.75,288.99 460.98,289.97 461.12,290.99 461.18,292.06 461.16,293.15 460.39,294.4 460.22,295.47 459.97,296.54 459.65,297.61 459.25,298.67 458.79,299.72 458.79,301.03" fill="#fff" stroke="#303030" stroke-width="1.9" stroke-linejoin="round" stroke-linecap="round" />
<ellipse cx="450.74" cy="296.54" rx="5.02" ry="7.64" transform="rotate(29.1 450.74 296.54)" fill="#fff" stroke="#303030" stroke-width="1.1" />
<ellipse cx="466.2" cy="306" rx="9.49" ry="13.67" transform="rotate(29.1 466.2 306)" fill="#fff" stroke="#303030" stroke-width="1.7" />
<ellipse cx="466.55" cy="306.19" rx="6.14" ry="9.25" transform="rotate(29.1 466.55 306.19)" fill="#fff" stroke="#2a2a2a" stroke-width="2.7" />
<ellipse cx="466.55" cy="306.19" rx="7.44" ry="10.99" transform="rotate(29.1 466.55 306.19)" fill="none" stroke="#666" stroke-width="0.6" />
<polyline points="490.49,319.23 489.87,320.27 489.18,321.28 488.44,322.23 487.65,323.13 486.82,323.95 485.7,324.08 484.86,324.71 484,325.27 483.12,325.75 482.23,326.14 481.34,326.44 480.35,327.46 479.42,327.59 478.5,327.61 477.62,327.54 476.77,327.37 475.96,327.1 475.61,325.97 474.94,325.54 474.33,325.03 473.77,324.44 473.27,323.77 472.85,323.03 471.86,322.73 471.55,321.81 471.32,320.83 471.18,319.81 471.12,318.74 471.14,317.65 471.91,316.4 472.08,315.33 472.33,314.26 472.65,313.19 473.05,312.13 473.51,311.08 473.51,309.77 474.13,308.73 474.82,307.72 475.56,306.77 476.35,305.87 477.18,305.05 478.3,304.92 479.14,304.29 480,303.73 480.88,303.25 481.77,302.86 482.66,302.56 483.65,301.54 484.58,301.41 485.5,301.39 486.38,301.46 487.23,301.63 488.04,301.9 488.39,303.03 489.06,303.46 489.67,303.97 490.23,304.56 490.73,305.23 491.15,305.97 492.14,306.27 492.45,307.19 492.68,308.17 492.82,309.19 492.88,310.26 492.86,311.35 492.09,312.6 491.92,313.67 491.67,314.74 491.35,315.81 490.95,316.87 490.49,317.92 490.49,319.23" fill="#fff" stroke="#303030" stroke-width="1.9" stroke-linejoin="round" stroke-linecap="round" />
<ellipse cx="482.44" cy="314.74" rx="5.02" ry="7.64" transform="rotate(29.1 482.44 314.74)" fill="#fff" stroke="#303030" stroke-width="1.1" />
<ellipse cx="314.32" cy="222.32" rx="7.6" ry="13" transform="rotate(28.6 314.32 222.32)" fill="#fff" stroke="#303030" stroke-width="1.3" />
<ellipse cx="315.9" cy="223.18" rx="7.6" ry="13" transform="rotate(28.6 315.9 223.18)" fill="#fff" stroke="#303030" stroke-width="0.9" />
<polyline points="333.71,231.37 333.34,232.03 332.95,232.67 332.53,233.3 331.41,233.22 331,233.76 330.58,234.29 330.14,234.79 330.2,236.17 329.68,236.68 329.16,237.16 328.62,237.62 327.76,236.98 327.26,237.35 326.75,237.68 326.23,238 325.83,239.48 325.25,239.76 324.68,240.01 324.1,240.23 323.63,239.13 323.11,239.26 322.59,239.37 322.08,239.44 321.27,240.8 320.73,240.81 320.19,240.79 319.66,240.73 319.64,239.33 319.19,239.22 318.74,239.07 318.31,238.9 317.22,239.93 316.79,239.67 316.37,239.38 315.97,239.05 316.41,237.57 316.09,237.22 315.79,236.85 315.5,236.45 314.3,237 314.04,236.5 313.8,235.99 313.59,235.45 314.43,234.11 314.29,233.58 314.17,233.04 314.08,232.47 312.94,232.45 312.89,231.8 312.88,231.14 312.89,230.47 313.99,229.47 314.06,228.85 314.14,228.21 314.25,227.57 313.36,226.99 313.54,226.28 313.74,225.57 313.97,224.87 315.17,224.37 315.43,223.74 315.71,223.11 316,222.5 315.49,221.43 315.86,220.77 316.25,220.13 316.67,219.5 317.79,219.58 318.2,219.04 318.62,218.51 319.06,218.01 319,216.63 319.52,216.12 320.04,215.64 320.58,215.18 321.44,215.82 321.94,215.45 322.45,215.12 322.97,214.8 323.37,213.32 323.95,213.04 324.52,212.79 325.1,212.57 325.57,213.67 326.09,213.54 326.61,213.43 327.12,213.36 327.93,212 328.47,211.99 329.01,212.01 329.54,212.07 329.56,213.47 330.01,213.58 330.46,213.73 330.89,213.9 331.98,212.87 332.41,213.13 332.83,213.42 333.23,213.75 332.79,215.23 333.11,215.58 333.41,215.95 333.7,216.35 334.9,215.8 335.16,216.3 335.4,216.81 335.61,217.35 334.77,218.69 334.91,219.22 335.03,219.76 335.12,220.33 336.26,220.35 336.31,221 336.32,221.66 336.31,222.33 335.21,223.33 335.14,223.95 335.06,224.59 334.95,225.23 335.84,225.81 335.66,226.52 335.46,227.23 335.23,227.93 334.03,228.43 333.77,229.06 333.49,229.69 333.2,230.3 333.71,231.37" fill="#fff" stroke="#303030" stroke-width="1.3" stroke-linejoin="round" stroke-linecap="round" />
<polyline points="328.81,228.7 333.12,231.04" fill="none" stroke="#303030" stroke-width="0.95" stroke-linejoin="round" stroke-linecap="round" />
<polyline points="328.29,229.52 331.62,233.4" fill="none" stroke="#303030" stroke-width="0.95" stroke-linejoin="round" stroke-linecap="round" />
<polyline points="327.66,230.25 329.85,235.49" fill="none" stroke="#303030" stroke-width="0.95" stroke-linejoin="round" stroke-linecap="round" />
<polyline points="326.97,230.85 327.88,237.24" fill="none" stroke="#303030" stroke-width="0.95" stroke-linejoin="round" stroke-linecap="round" />
<polyline points="326.22,231.31 325.78,238.56" fill="none" stroke="#303030" stroke-width="0.95" stroke-linejoin="round" stroke-linecap="round" />
<polyline points="325.46,231.6 323.64,239.42" fill="none" stroke="#303030" stroke-width="0.95" stroke-linejoin="round" stroke-linecap="round" />
<polyline points="324.71,231.72 321.53,239.78" fill="none" stroke="#303030" stroke-width="0.95" stroke-linejoin="round" stroke-linecap="round" />
<polyline points="323.99,231.65 319.55,239.62" fill="none" stroke="#303030" stroke-width="0.95" stroke-linejoin="round" stroke-linecap="round" />
<polyline points="323.35,231.41 317.75,238.96" fill="none" stroke="#303030" stroke-width="0.95" stroke-linejoin="round" stroke-linecap="round" />
<polyline points="322.79,231 316.22,237.81" fill="none" stroke="#303030" stroke-width="0.95" stroke-linejoin="round" stroke-linecap="round" />
<polyline points="322.35,230.44 315.02,236.22" fill="none" stroke="#303030" stroke-width="0.95" stroke-linejoin="round" stroke-linecap="round" />
<polyline points="322.04,229.74 314.18,234.26" fill="none" stroke="#303030" stroke-width="0.95" stroke-linejoin="round" stroke-linecap="round" />
<polyline points="321.88,228.94 313.74,231.99" fill="none" stroke="#303030" stroke-width="0.95" stroke-linejoin="round" stroke-linecap="round" />
<polyline points="321.86,228.07 313.72,229.51" fill="none" stroke="#303030" stroke-width="0.95" stroke-linejoin="round" stroke-linecap="round" />
<polyline points="321.99,227.15 314.11,226.91" fill="none" stroke="#303030" stroke-width="0.95" stroke-linejoin="round" stroke-linecap="round" />
<polyline points="322.26,226.24 314.91,224.3" fill="none" stroke="#303030" stroke-width="0.95" stroke-linejoin="round" stroke-linecap="round" />
<polyline points="322.67,225.35 316.08,221.76" fill="none" stroke="#303030" stroke-width="0.95" stroke-linejoin="round" stroke-linecap="round" />
<polyline points="323.19,224.52 317.58,219.4" fill="none" stroke="#303030" stroke-width="0.95" stroke-linejoin="round" stroke-linecap="round" />
<polyline points="323.82,223.79 319.35,217.31" fill="none" stroke="#303030" stroke-width="0.95" stroke-linejoin="round" stroke-linecap="round" />
<polyline points="324.52,223.19 321.32,215.56" fill="none" stroke="#303030" stroke-width="0.95" stroke-linejoin="round" stroke-linecap="round" />
<polyline points="325.26,222.73 323.42,214.24" fill="none" stroke="#303030" stroke-width="0.95" stroke-linejoin="round" stroke-linecap="round" />
<polyline points="326.02,222.44 325.56,213.38" fill="none" stroke="#303030" stroke-width="0.95" stroke-linejoin="round" stroke-linecap="round" />
<polyline points="326.78,222.33 327.67,213.02" fill="none" stroke="#303030" stroke-width="0.95" stroke-linejoin="round" stroke-linecap="round" />
<polyline points="327.49,222.39 329.65,213.18" fill="none" stroke="#303030" stroke-width="0.95" stroke-linejoin="round" stroke-linecap="round" />
<polyline points="328.13,222.63 331.45,213.84" fill="none" stroke="#303030" stroke-width="0.95" stroke-linejoin="round" stroke-linecap="round" />
<polyline points="328.69,223.04 332.98,214.99" fill="none" stroke="#303030" stroke-width="0.95" stroke-linejoin="round" stroke-linecap="round" />
<polyline points="329.13,223.61 334.18,216.58" fill="none" stroke="#303030" stroke-width="0.95" stroke-linejoin="round" stroke-linecap="round" />
<polyline points="329.44,224.3 335.02,218.54" fill="none" stroke="#303030" stroke-width="0.95" stroke-linejoin="round" stroke-linecap="round" />
<polyline points="329.61,225.1 335.46,220.81" fill="none" stroke="#303030" stroke-width="0.95" stroke-linejoin="round" stroke-linecap="round" />
<polyline points="329.63,225.98 335.48,223.29" fill="none" stroke="#303030" stroke-width="0.95" stroke-linejoin="round" stroke-linecap="round" />
<polyline points="329.5,226.89 335.09,225.89" fill="none" stroke="#303030" stroke-width="0.95" stroke-linejoin="round" stroke-linecap="round" />
<polyline points="329.22,227.81 334.29,228.5" fill="none" stroke="#303030" stroke-width="0.95" stroke-linejoin="round" stroke-linecap="round" />
<polyline points="328.38,228.46 331.89,230.37" fill="none" stroke="#262626" stroke-width="1.5" stroke-linejoin="round" stroke-linecap="round" />
<polyline points="327.44,229.69 329.55,233.55" fill="none" stroke="#262626" stroke-width="1.5" stroke-linejoin="round" stroke-linecap="round" />
<polyline points="326.25,230.52 326.63,235.72" fill="none" stroke="#262626" stroke-width="1.5" stroke-linejoin="round" stroke-linecap="round" />
<polyline points="324.98,230.82 323.58,236.58" fill="none" stroke="#262626" stroke-width="1.5" stroke-linejoin="round" stroke-linecap="round" />
<polyline points="323.83,230.53 320.86,235.98" fill="none" stroke="#262626" stroke-width="1.5" stroke-linejoin="round" stroke-linecap="round" />
<polyline points="322.96,229.72 318.88,234.01" fill="none" stroke="#262626" stroke-width="1.5" stroke-linejoin="round" stroke-linecap="round" />
<polyline points="322.52,228.49 317.94,230.99" fill="none" stroke="#262626" stroke-width="1.5" stroke-linejoin="round" stroke-linecap="round" />
<polyline points="322.58,227.04 318.19,227.35" fill="none" stroke="#262626" stroke-width="1.5" stroke-linejoin="round" stroke-linecap="round" />
<polyline points="323.11,225.59 319.6,223.67" fill="none" stroke="#262626" stroke-width="1.5" stroke-linejoin="round" stroke-linecap="round" />
<polyline points="324.04,224.35 321.93,220.5" fill="none" stroke="#262626" stroke-width="1.5" stroke-linejoin="round" stroke-linecap="round" />
<polyline points="325.23,223.52 324.85,218.32" fill="none" stroke="#262626" stroke-width="1.5" stroke-linejoin="round" stroke-linecap="round" />
<polyline points="326.5,223.23 327.9,217.47" fill="none" stroke="#262626" stroke-width="1.5" stroke-linejoin="round" stroke-linecap="round" />
<polyline points="327.66,223.51 330.62,218.07" fill="none" stroke="#262626" stroke-width="1.5" stroke-linejoin="round" stroke-linecap="round" />
<polyline points="328.52,224.33 332.6,220.03" fill="none" stroke="#262626" stroke-width="1.5" stroke-linejoin="round" stroke-linecap="round" />
<polyline points="328.96,225.55 333.54,223.06" fill="none" stroke="#262626" stroke-width="1.5" stroke-linejoin="round" stroke-linecap="round" />
<polyline points="328.91,227.01 333.29,226.69" fill="none" stroke="#262626" stroke-width="1.5" stroke-linejoin="round" stroke-linecap="round" />
<ellipse cx="325.74" cy="227.02" rx="4.4" ry="5.8" transform="rotate(28.6 325.74 227.02)" fill="#181818" stroke="#303030" stroke-width="1" />
<polyline points="386.15,260.39 385.72,261.14 385.26,261.87 384.77,262.58 383.4,262.29 382.94,262.87 382.47,263.42 381.97,263.96 382.04,265.76 381.45,266.3 380.84,266.82 380.22,267.29 379.33,266.19 378.77,266.54 378.22,266.85 377.66,267.14 377.04,269.1 376.4,269.34 375.76,269.53 375.13,269.69 374.89,267.98 374.35,268.04 373.82,268.05 373.31,268.03 372.12,269.77 371.56,269.65 371.03,269.49 370.51,269.28 370.96,267.32 370.55,267.07 370.16,266.78 369.79,266.45 368.27,267.63 367.91,267.18 367.57,266.69 367.27,266.17 368.33,264.34 368.13,263.83 367.95,263.29 367.8,262.73 366.25,263.1 366.15,262.4 366.09,261.69 366.06,260.96 367.52,259.62 367.56,258.95 367.63,258.27 367.73,257.58 366.46,257.08 366.64,256.28 366.86,255.48 367.11,254.68 368.68,254.1 368.96,253.4 369.27,252.72 369.6,252.04 368.85,250.77 369.28,250.02 369.74,249.29 370.23,248.58 371.59,248.87 372.05,248.29 372.53,247.74 373.03,247.2 372.96,245.4 373.55,244.86 374.16,244.34 374.78,243.87 375.67,244.97 376.23,244.62 376.78,244.3 377.34,244.02 377.96,242.06 378.6,241.82 379.24,241.62 379.87,241.47 380.11,243.18 380.65,243.12 381.18,243.11 381.69,243.13 382.88,241.39 383.43,241.51 383.97,241.67 384.49,241.87 384.04,243.84 384.45,244.09 384.84,244.38 385.21,244.71 386.73,243.53 387.09,243.98 387.43,244.47 387.73,244.99 386.66,246.82 386.87,247.33 387.05,247.87 387.2,248.43 388.75,248.06 388.85,248.75 388.91,249.47 388.94,250.2 387.48,251.54 387.44,252.21 387.37,252.89 387.27,253.58 388.54,254.08 388.36,254.88 388.14,255.68 387.88,256.48 386.31,257.06 386.04,257.76 385.73,258.44 385.4,259.12 386.15,260.39" fill="#fff" stroke="#303030" stroke-width="1.3" stroke-linejoin="round" stroke-linecap="round" />
<polyline points="387.37,261.08 385.63,260.1" fill="none" stroke="#303030" stroke-width="0.9" stroke-linejoin="round" stroke-linecap="round" />
<polyline points="385.95,263.24 383.86,262.79" fill="none" stroke="#303030" stroke-width="0.9" stroke-linejoin="round" stroke-linecap="round" />
<polyline points="384.25,265.1 381.78,265.11" fill="none" stroke="#303030" stroke-width="0.9" stroke-linejoin="round" stroke-linecap="round" />
<polyline points="382.37,266.57 379.49,266.96" fill="none" stroke="#303030" stroke-width="0.9" stroke-linejoin="round" stroke-linecap="round" />
<polyline points="380.4,267.57 377.09,268.24" fill="none" stroke="#303030" stroke-width="0.9" stroke-linejoin="round" stroke-linecap="round" />
<polyline points="378.43,268.06 374.72,268.88" fill="none" stroke="#303030" stroke-width="0.9" stroke-linejoin="round" stroke-linecap="round" />
<polyline points="376.57,268.01 372.48,268.85" fill="none" stroke="#303030" stroke-width="0.9" stroke-linejoin="round" stroke-linecap="round" />
<polyline points="374.92,267.42 370.5,268.16" fill="none" stroke="#303030" stroke-width="0.9" stroke-linejoin="round" stroke-linecap="round" />
<polyline points="373.54,266.32 368.86,266.84" fill="none" stroke="#303030" stroke-width="0.9" stroke-linejoin="round" stroke-linecap="round" />
<polyline points="372.52,264.77 367.66,264.95" fill="none" stroke="#303030" stroke-width="0.9" stroke-linejoin="round" stroke-linecap="round" />
<polyline points="371.9,262.84 366.96,262.6" fill="none" stroke="#303030" stroke-width="0.9" stroke-linejoin="round" stroke-linecap="round" />
<polyline points="371.71,260.64 366.78,259.89" fill="none" stroke="#303030" stroke-width="0.9" stroke-linejoin="round" stroke-linecap="round" />
<polyline points="371.97,258.26 367.14,256.96" fill="none" stroke="#303030" stroke-width="0.9" stroke-linejoin="round" stroke-linecap="round" />
<polyline points="372.66,255.84 368.02,253.97" fill="none" stroke="#303030" stroke-width="0.9" stroke-linejoin="round" stroke-linecap="round" />
<polyline points="373.74,253.49 369.37,251.06" fill="none" stroke="#303030" stroke-width="0.9" stroke-linejoin="round" stroke-linecap="round" />
<polyline points="375.17,251.33 371.14,248.37" fill="none" stroke="#303030" stroke-width="0.9" stroke-linejoin="round" stroke-linecap="round" />
<polyline points="376.86,249.47 373.22,246.05" fill="none" stroke="#303030" stroke-width="0.9" stroke-linejoin="round" stroke-linecap="round" />
<polyline points="378.75,248 375.51,244.2" fill="none" stroke="#303030" stroke-width="0.9" stroke-linejoin="round" stroke-linecap="round" />
<polyline points="380.72,246.99 377.91,242.92" fill="none" stroke="#303030" stroke-width="0.9" stroke-linejoin="round" stroke-linecap="round" />
<polyline points="382.68,246.5 380.28,242.28" fill="none" stroke="#303030" stroke-width="0.9" stroke-linejoin="round" stroke-linecap="round" />
<polyline points="384.54,246.56 382.52,242.31" fill="none" stroke="#303030" stroke-width="0.9" stroke-linejoin="round" stroke-linecap="round" />
<polyline points="386.2,247.15 384.5,243" fill="none" stroke="#303030" stroke-width="0.9" stroke-linejoin="round" stroke-linecap="round" />
<polyline points="387.57,248.24 386.14,244.32" fill="none" stroke="#303030" stroke-width="0.9" stroke-linejoin="round" stroke-linecap="round" />
<polyline points="388.6,249.8 387.33,246.21" fill="none" stroke="#303030" stroke-width="0.9" stroke-linejoin="round" stroke-linecap="round" />
<polyline points="389.22,251.72 388.04,248.56" fill="none" stroke="#303030" stroke-width="0.9" stroke-linejoin="round" stroke-linecap="round" />
<polyline points="389.4,253.93 388.22,251.27" fill="none" stroke="#303030" stroke-width="0.9" stroke-linejoin="round" stroke-linecap="round" />
<polyline points="389.15,256.3 387.86,254.2" fill="none" stroke="#303030" stroke-width="0.9" stroke-linejoin="round" stroke-linecap="round" />
<polyline points="388.46,258.72 386.98,257.19" fill="none" stroke="#303030" stroke-width="0.9" stroke-linejoin="round" stroke-linecap="round" />
<ellipse cx="380.12" cy="257.04" rx="8.5" ry="12.8" transform="rotate(29.1 380.12 257.04)" fill="#fff" stroke="#303030" stroke-width="1" />
<polygon points="373.9,268.22 379.57,271.38 392.03,249.02 386.35,245.85" fill="#fff"/>
<polyline points="373.9,268.22 379.57,271.38" fill="none" stroke="#303030" stroke-width="1.35" stroke-linejoin="round" stroke-linecap="round" />
<polyline points="386.35,245.85 392.03,249.02" fill="none" stroke="#303030" stroke-width="1.35" stroke-linejoin="round" stroke-linecap="round" />
<ellipse cx="385.8" cy="260.2" rx="8.5" ry="12.8" transform="rotate(29.1 385.8 260.2)" fill="#fff" stroke="#2a2a2a" stroke-width="1.5" />
<ellipse cx="385.8" cy="260.2" rx="6.9" ry="10.6" transform="rotate(29.1 385.8 260.2)" fill="none" stroke="#303030" stroke-width="0.8" />
<ellipse cx="385.28" cy="259.91" rx="5" ry="6.8" transform="rotate(29.1 385.28 259.91)" fill="#1c1c1c" stroke="#222" stroke-width="1.5" />
<ellipse cx="384.66" cy="259.57" rx="2.5" ry="3.8" transform="rotate(29.1 384.66 259.57)" fill="#4a4a4a" stroke="#707070" stroke-width="0.6" />
<ellipse cx="360.3" cy="115.8" rx="4.1" ry="2.5" transform="rotate(0 360.3 115.8)" fill="#fff" stroke="#222" stroke-width="1.85" />
<ellipse cx="360.5" cy="124.8" rx="3.7" ry="2.3" transform="rotate(0 360.5 124.8)" fill="#fff" stroke="#222" stroke-width="1.85" />
<g transform="translate(360.4 132.2) rotate(90)">
<path d="M0,-4.3 L15.4,-4.3 A1.81,4.3 0 0 1 15.4,4.3 L0,4.3 A1.81,4.3 0 0 1 0,-4.3 Z" fill="#fff" stroke="#303030" stroke-width="1.2"/>
<ellipse cx="0" cy="0" rx="1.81" ry="4.3" fill="#fff" stroke="#2a2a2a" stroke-width="1.3"/>
<path d="M2.16,-4.3 A1.81,4.3 0 0 1 2.16,4.3" fill="none" stroke="#2a2a2a" stroke-width="1.0"/>
<path d="M3.08,-4.3 A1.81,4.3 0 0 1 3.08,4.3" fill="none" stroke="#2a2a2a" stroke-width="1.0"/>
<path d="M4,-4.3 A1.81,4.3 0 0 1 4,4.3" fill="none" stroke="#2a2a2a" stroke-width="1.0"/>
<path d="M6.93,-4.3 A1.81,4.3 0 0 1 6.93,4.3" fill="none" stroke="#303030" stroke-width="0.9"/>
<path d="M11.09,-4.3 A1.81,4.3 0 0 1 11.09,4.3" fill="none" stroke="#303030" stroke-width="0.9"/>
</g>
<ellipse cx="360.6" cy="154.7" rx="4.3" ry="8.5" transform="rotate(90 360.6 154.7)" fill="#fff" stroke="#2a2a2a" stroke-width="1.5" />
<ellipse cx="360.6" cy="156" rx="4.3" ry="8.5" transform="rotate(90 360.6 156)" fill="#fff" stroke="#2a2a2a" stroke-width="1.3" />
<ellipse cx="360.6" cy="156.3" rx="2.06" ry="3.83" transform="rotate(90 360.6 156.3)" fill="none" stroke="#303030" stroke-width="1" />
<polyline points="351.3,166 354.99,174.07 355.19,174.64 355.79,175.16 356.75,175.61 357.99,175.95 359.44,176.17 361,176.24 362.56,176.17 364.01,175.95 365.25,175.61 366.21,175.16 366.81,174.64 367.01,174.07 370.7,166" fill="#fff" stroke="#303030" stroke-width="1" stroke-linejoin="round" stroke-linecap="round" />
<path d="M351.7,165 Q349.8,167.71 353.32,174.1 L353.32,174.9 Q349.8,169.73 351.7,167 Z" fill="#fff" stroke="#303030" stroke-width="1.05" stroke-linejoin="round" stroke-linecap="round" />
<polyline points="351.3,167.28 353.05,173.65" fill="none" stroke="#666" stroke-width="0.6" stroke-linejoin="round" stroke-linecap="round" />
<path d="M370.3,167 Q372.2,169.73 368.68,174.9 L368.68,174.1 Q372.2,167.71 370.3,165 Z" fill="#fff" stroke="#303030" stroke-width="1.05" stroke-linejoin="round" stroke-linecap="round" />
<polyline points="370.7,167.28 368.95,173.65" fill="none" stroke="#666" stroke-width="0.6" stroke-linejoin="round" stroke-linecap="round" />
<path d="M351.85,167.16 Q350.29,170.27 354.13,175.8 L355.44,176.45 Q353.59,171.91 355.1,168.77 Z" fill="#fff" stroke="#303030" stroke-width="1.05" stroke-linejoin="round" stroke-linecap="round" />
<polyline points="353.15,169.33 354.57,175.33" fill="none" stroke="#666" stroke-width="0.6" stroke-linejoin="round" stroke-linecap="round" />
<path d="M366.9,168.77 Q368.41,171.91 366.56,176.45 L367.87,175.8 Q371.71,170.27 370.15,167.16 Z" fill="#fff" stroke="#303030" stroke-width="1.05" stroke-linejoin="round" stroke-linecap="round" />
<polyline points="368.85,169.33 367.43,175.33" fill="none" stroke="#666" stroke-width="0.6" stroke-linejoin="round" stroke-linecap="round" />
<path d="M355.5,168.88 Q354.87,172.24 357.56,177 L359.69,177.25 Q360.21,172.87 360.76,169.49 Z" fill="#fff" stroke="#303030" stroke-width="1.05" stroke-linejoin="round" stroke-linecap="round" />
<polyline points="358,170.6 358.54,176.37" fill="none" stroke="#666" stroke-width="0.6" stroke-linejoin="round" stroke-linecap="round" />
<path d="M361.24,169.49 Q361.79,172.87 362.31,177.25 L364.44,177 Q367.13,172.24 366.5,168.88 Z" fill="#fff" stroke="#303030" stroke-width="1.05" stroke-linejoin="round" stroke-linecap="round" />
<polyline points="364,170.6 363.46,176.37" fill="none" stroke="#666" stroke-width="0.6" stroke-linejoin="round" stroke-linecap="round" />
<ellipse cx="361" cy="166" rx="3.49" ry="9.7" transform="rotate(90 361 166)" fill="#fff" stroke="#303030" stroke-width="1.2" />
<ellipse cx="361" cy="165.7" rx="1.57" ry="4.07" transform="rotate(90 361 165.7)" fill="none" stroke="#303030" stroke-width="0.9" />
<ellipse cx="361" cy="165.7" rx="0.7" ry="1.94" transform="rotate(90 361 165.7)" fill="none" stroke="#666" stroke-width="0.7" />
<polyline points="359.8,277.78 360.88,277.8 361.95,277.88 363.01,278.01 363.18,279.49 363.98,279.68 364.74,279.89 365.47,280.15 367.77,279.37 368.57,279.78 369.3,280.22 369.96,280.69 368.36,281.88 368.75,282.3 369.08,282.74 369.34,283.19 372.01,283.42 372.15,284.01 372.2,284.6 372.15,285.19 369.53,285.54 369.34,286.01 369.08,286.46 368.75,286.9 370.54,288.01 369.96,288.51 369.3,288.98 368.57,289.42 366.15,288.76 365.47,289.05 364.74,289.31 363.98,289.52 364.04,291.01 363.01,291.19 361.95,291.32 360.88,291.4 359.8,290.03 358.94,290.01 358.08,289.95 357.24,289.85 355.56,291.01 354.56,290.78 353.6,290.51 352.69,290.19 353.45,288.76 352.81,288.44 352.23,288.09 351.71,287.72 349.06,288.01 348.56,287.48 348.15,286.93 347.82,286.37 350.07,285.54 349.96,285.07 349.92,284.6 349.96,284.13 347.59,283.42 347.82,282.83 348.15,282.27 348.56,281.72 351.24,281.88 351.71,281.48 352.23,281.11 352.81,280.76 351.83,279.37 352.69,279.01 353.6,278.69 354.56,278.42 356.42,279.49 357.24,279.35 358.08,279.25 358.94,279.19 359.8,277.78" fill="#fff" stroke="#303030" stroke-width="1.2" stroke-linejoin="round" stroke-linecap="round" />
<polyline points="359.8,280.35 359.8,278.54" fill="none" stroke="#303030" stroke-width="0.85" stroke-linejoin="round" stroke-linecap="round" />
<polyline points="361.32,280.5 363.57,278.9" fill="none" stroke="#303030" stroke-width="0.85" stroke-linejoin="round" stroke-linecap="round" />
<polyline points="362.66,280.92 366.89,279.96" fill="none" stroke="#303030" stroke-width="0.85" stroke-linejoin="round" stroke-linecap="round" />
<polyline points="363.66,281.58 369.35,281.57" fill="none" stroke="#303030" stroke-width="0.85" stroke-linejoin="round" stroke-linecap="round" />
<polyline points="364.18,282.37 370.66,283.55" fill="none" stroke="#303030" stroke-width="0.85" stroke-linejoin="round" stroke-linecap="round" />
<polyline points="364.18,283.23 370.66,285.65" fill="none" stroke="#303030" stroke-width="0.85" stroke-linejoin="round" stroke-linecap="round" />
<polyline points="363.66,284.02 369.35,287.63" fill="none" stroke="#303030" stroke-width="0.85" stroke-linejoin="round" stroke-linecap="round" />
<polyline points="362.66,284.68 366.89,289.24" fill="none" stroke="#303030" stroke-width="0.85" stroke-linejoin="round" stroke-linecap="round" />
<polyline points="361.32,285.1 363.57,290.3" fill="none" stroke="#303030" stroke-width="0.85" stroke-linejoin="round" stroke-linecap="round" />
<polyline points="359.8,285.25 359.8,290.66" fill="none" stroke="#303030" stroke-width="0.85" stroke-linejoin="round" stroke-linecap="round" />
<polyline points="358.28,285.1 356.03,290.3" fill="none" stroke="#303030" stroke-width="0.85" stroke-linejoin="round" stroke-linecap="round" />
<polyline points="356.94,284.68 352.71,289.24" fill="none" stroke="#303030" stroke-width="0.85" stroke-linejoin="round" stroke-linecap="round" />
<polyline points="355.94,284.02 350.25,287.63" fill="none" stroke="#303030" stroke-width="0.85" stroke-linejoin="round" stroke-linecap="round" />
<polyline points="355.42,283.23 348.94,285.65" fill="none" stroke="#303030" stroke-width="0.85" stroke-linejoin="round" stroke-linecap="round" />
<polyline points="355.42,282.37 348.94,283.55" fill="none" stroke="#303030" stroke-width="0.85" stroke-linejoin="round" stroke-linecap="round" />
<polyline points="355.94,281.58 350.25,281.57" fill="none" stroke="#303030" stroke-width="0.85" stroke-linejoin="round" stroke-linecap="round" />
<polyline points="356.94,280.92 352.71,279.96" fill="none" stroke="#303030" stroke-width="0.85" stroke-linejoin="round" stroke-linecap="round" />
<polyline points="358.28,280.5 356.03,278.9" fill="none" stroke="#303030" stroke-width="0.85" stroke-linejoin="round" stroke-linecap="round" />
<ellipse cx="359.8" cy="282.6" rx="2.45" ry="4.45" transform="rotate(-90 359.8 282.6)" fill="#fff" stroke="#303030" stroke-width="1" />
<ellipse cx="359.8" cy="282.6" rx="1.17" ry="2.12" transform="rotate(-90 359.8 282.6)" fill="none" stroke="#303030" stroke-width="0.7" />
<ellipse cx="360" cy="299.4" rx="4.2" ry="8.2" transform="rotate(-90 360 299.4)" fill="#fff" stroke="#2a2a2a" stroke-width="1.5" />
<ellipse cx="360" cy="298.1" rx="4.2" ry="8.2" transform="rotate(-90 360 298.1)" fill="#fff" stroke="#2a2a2a" stroke-width="1.3" />
<ellipse cx="360" cy="297.8" rx="2.02" ry="3.69" transform="rotate(-90 360 297.8)" fill="none" stroke="#303030" stroke-width="1" />
<g transform="translate(360.2 322.4) rotate(-90)">
<path d="M0,-4.2 L15.4,-4.2 A1.76,4.2 0 0 1 15.4,4.2 L0,4.2 A1.76,4.2 0 0 1 0,-4.2 Z" fill="#fff" stroke="#303030" stroke-width="1.2"/>
<ellipse cx="0" cy="0" rx="1.76" ry="4.2" fill="#fff" stroke="#2a2a2a" stroke-width="1.3"/>
<path d="M2.16,-4.2 A1.76,4.2 0 0 1 2.16,4.2" fill="none" stroke="#2a2a2a" stroke-width="1.0"/>
<path d="M3.08,-4.2 A1.76,4.2 0 0 1 3.08,4.2" fill="none" stroke="#2a2a2a" stroke-width="1.0"/>
<path d="M4,-4.2 A1.76,4.2 0 0 1 4,4.2" fill="none" stroke="#2a2a2a" stroke-width="1.0"/>
<path d="M6.93,-4.2 A1.76,4.2 0 0 1 6.93,4.2" fill="none" stroke="#303030" stroke-width="0.9"/>
<path d="M11.09,-4.2 A1.76,4.2 0 0 1 11.09,4.2" fill="none" stroke="#303030" stroke-width="0.9"/>
</g>
<ellipse cx="360.2" cy="328.3" rx="4" ry="2.4" transform="rotate(0 360.2 328.3)" fill="#fff" stroke="#222" stroke-width="1.85" />
<ellipse cx="360.2" cy="336.5" rx="4" ry="2.4" transform="rotate(0 360.2 336.5)" fill="#fff" stroke="#222" stroke-width="1.85" />
<polyline points="353.87,257.96 359.26,251.11 359.6,250.71 359.73,250.02 359.66,249.08 359.37,247.97 358.9,246.76 358.27,245.53 357.53,244.37 356.72,243.35 355.91,242.54 355.15,242 354.48,241.77 353.96,241.86 345.33,243.04" fill="#fff" stroke="#303030" stroke-width="1" stroke-linejoin="round" stroke-linecap="round" />
<path d="M352.93,258.09 Q356.12,258.21 360.05,252.36 L360.67,252.01 Q357.67,257.32 354.46,257.21 Z" fill="#fff" stroke="#303030" stroke-width="1.05" stroke-linejoin="round" stroke-linecap="round" />
<polyline points="354.98,257.33 359.74,252.82" fill="none" stroke="#666" stroke-width="0.6" stroke-linejoin="round" stroke-linecap="round" />
<path d="M346.27,242.91 Q347.8,240.09 353.9,240.19 L353.28,240.54 Q346.25,240.98 344.74,243.79 Z" fill="#fff" stroke="#303030" stroke-width="1.05" stroke-linejoin="round" stroke-linecap="round" />
<polyline points="346.43,242.4 352.73,240.58" fill="none" stroke="#666" stroke-width="0.6" stroke-linejoin="round" stroke-linecap="round" />
<path d="M354.52,257.03 Q357.87,256.7 361,250.99 L360.92,249.69 Q357.68,253.44 354.33,253.82 Z" fill="#fff" stroke="#303030" stroke-width="1.05" stroke-linejoin="round" stroke-linecap="round" />
<polyline points="355.74,255 360.37,250.91" fill="none" stroke="#666" stroke-width="0.6" stroke-linejoin="round" stroke-linecap="round" />
<path d="M349.13,244.74 Q351.15,242.04 356.03,241.14 L354.95,240.42 Q348.44,240.23 346.46,242.95 Z" fill="#fff" stroke="#303030" stroke-width="1.05" stroke-linejoin="round" stroke-linecap="round" />
<polyline points="348.83,242.92 354.7,241.01" fill="none" stroke="#666" stroke-width="0.6" stroke-linejoin="round" stroke-linecap="round" />
<path d="M354.24,253.47 Q357.37,252.31 360.42,247.82 L359.67,246.07 Q355.5,247.93 352.39,249.15 Z" fill="#fff" stroke="#303030" stroke-width="1.05" stroke-linejoin="round" stroke-linecap="round" />
<polyline points="354.58,250.71 359.42,247.39" fill="none" stroke="#666" stroke-width="0.6" stroke-linejoin="round" stroke-linecap="round" />
<path d="M352.18,248.77 Q354.8,246.71 358.52,244.05 L357.39,242.53 Q351.97,242.88 349.39,245 Z" fill="#fff" stroke="#303030" stroke-width="1.05" stroke-linejoin="round" stroke-linecap="round" />
<polyline points="351.94,246.1 357.25,243.61" fill="none" stroke="#666" stroke-width="0.6" stroke-linejoin="round" stroke-linecap="round" />
<ellipse cx="349.6" cy="250.5" rx="3.1" ry="8.6" transform="rotate(-29.8 349.6 250.5)" fill="#fff" stroke="#303030" stroke-width="1.2" />
<ellipse cx="349.34" cy="250.65" rx="1.39" ry="3.61" transform="rotate(-29.8 349.34 250.65)" fill="none" stroke="#303030" stroke-width="0.9" />
<ellipse cx="349.34" cy="250.65" rx="0.62" ry="1.72" transform="rotate(-29.8 349.34 250.65)" fill="none" stroke="#666" stroke-width="0.7" />
<ellipse cx="340.11" cy="256.1" rx="4" ry="7.8" transform="rotate(-29.8 340.11 256.1)" fill="#fff" stroke="#2a2a2a" stroke-width="1.5" />
<ellipse cx="341.23" cy="255.45" rx="4" ry="7.8" transform="rotate(-29.8 341.23 255.45)" fill="#fff" stroke="#2a2a2a" stroke-width="1.3" />
<ellipse cx="341.49" cy="255.3" rx="1.92" ry="3.51" transform="rotate(-29.8 341.49 255.3)" fill="none" stroke="#303030" stroke-width="1" />
<g transform="translate(319.6 267.7) rotate(-29.74)">
<path d="M0,-3.8 L16.93,-3.8 A1.6,3.8 0 0 1 16.93,3.8 L0,3.8 A1.6,3.8 0 0 1 0,-3.8 Z" fill="#fff" stroke="#303030" stroke-width="1.2"/>
<ellipse cx="0" cy="0" rx="1.6" ry="3.8" fill="#fff" stroke="#2a2a2a" stroke-width="1.3"/>
<path d="M2.37,-3.8 A1.6,3.8 0 0 1 2.37,3.8" fill="none" stroke="#2a2a2a" stroke-width="1.0"/>
<path d="M3.39,-3.8 A1.6,3.8 0 0 1 3.39,3.8" fill="none" stroke="#2a2a2a" stroke-width="1.0"/>
<path d="M4.4,-3.8 A1.6,3.8 0 0 1 4.4,3.8" fill="none" stroke="#2a2a2a" stroke-width="1.0"/>
<path d="M7.62,-3.8 A1.6,3.8 0 0 1 7.62,3.8" fill="none" stroke="#303030" stroke-width="0.9"/>
<path d="M12.19,-3.8 A1.6,3.8 0 0 1 12.19,3.8" fill="none" stroke="#303030" stroke-width="0.9"/>
</g>
<ellipse cx="313.9" cy="271" rx="2.5" ry="3.8" transform="rotate(-29.8 313.9 271)" fill="#fff" stroke="#222" stroke-width="1.85" />
<ellipse cx="307.4" cy="274.6" rx="2.5" ry="3.8" transform="rotate(-29.8 307.4 274.6)" fill="#fff" stroke="#222" stroke-width="1.85" />
<polyline points="399.72,224.63 399.29,223.76 398.92,222.87 398.61,221.96 400.04,221.04 399.89,220.31 399.79,219.59 399.74,218.88 398,217.46 398.07,216.61 398.2,215.8 398.41,215.03 400.28,215.66 400.54,215.12 400.84,214.63 401.19,214.18 400.3,211.95 400.84,211.52 401.42,211.17 402.04,210.89 403.49,212.78 404.03,212.69 404.59,212.65 405.17,212.68 405.55,210.67 406.3,210.86 407.05,211.14 407.8,211.48 408.15,213.75 408.72,214.14 409.28,214.58 409.82,215.07 411.29,214.23 411.91,214.95 412.48,215.72 413,216.53 412.08,218.11 412.42,218.8 412.72,219.51 412.96,220.24 414.84,220.95 415.03,221.87 415.15,222.77 415.21,223.67 413.45,223.82 413.4,224.49 413.29,225.14 413.13,225.76 414.53,227.7 414.21,228.38 413.83,229 413.39,229.56 411.62,228.21 411.19,228.55 410.73,228.83 410.24,229.05 410.51,231.31 409.83,231.44 409.12,231.48 408.39,231.44 407.43,229.23 406.84,229.07 406.24,228.86 405.64,228.58 404.66,230.1 403.94,229.61 403.23,229.06 402.55,228.44 402.86,226.39 402.37,225.82 401.92,225.21 401.5,224.56 399.72,224.63" fill="#fff" stroke="#303030" stroke-width="1.2" stroke-linejoin="round" stroke-linecap="round" />
<polyline points="402.36,223.24 400.48,224.23" fill="none" stroke="#303030" stroke-width="0.85" stroke-linejoin="round" stroke-linecap="round" />
<polyline points="401.87,221.95 399.28,221.04" fill="none" stroke="#303030" stroke-width="0.85" stroke-linejoin="round" stroke-linecap="round" />
<polyline points="401.74,220.66 398.95,217.85" fill="none" stroke="#303030" stroke-width="0.85" stroke-linejoin="round" stroke-linecap="round" />
<polyline points="401.98,219.53 399.55,215.04" fill="none" stroke="#303030" stroke-width="0.85" stroke-linejoin="round" stroke-linecap="round" />
<polyline points="402.57,218.68 401,212.95" fill="none" stroke="#303030" stroke-width="0.85" stroke-linejoin="round" stroke-linecap="round" />
<polyline points="403.43,218.23 403.12,211.83" fill="none" stroke="#303030" stroke-width="0.85" stroke-linejoin="round" stroke-linecap="round" />
<polyline points="404.45,218.22 405.67,211.82" fill="none" stroke="#303030" stroke-width="0.85" stroke-linejoin="round" stroke-linecap="round" />
<polyline points="405.53,218.67 408.32,212.91" fill="none" stroke="#303030" stroke-width="0.85" stroke-linejoin="round" stroke-linecap="round" />
<polyline points="406.52,219.5 410.77,214.98" fill="none" stroke="#303030" stroke-width="0.85" stroke-linejoin="round" stroke-linecap="round" />
<polyline points="407.3,220.63 412.72,217.77" fill="none" stroke="#303030" stroke-width="0.85" stroke-linejoin="round" stroke-linecap="round" />
<polyline points="407.79,221.92 413.92,220.96" fill="none" stroke="#303030" stroke-width="0.85" stroke-linejoin="round" stroke-linecap="round" />
<polyline points="407.92,223.2 414.25,224.15" fill="none" stroke="#303030" stroke-width="0.85" stroke-linejoin="round" stroke-linecap="round" />
<polyline points="407.68,224.34 413.65,226.96" fill="none" stroke="#303030" stroke-width="0.85" stroke-linejoin="round" stroke-linecap="round" />
<polyline points="407.09,225.18 412.2,229.05" fill="none" stroke="#303030" stroke-width="0.85" stroke-linejoin="round" stroke-linecap="round" />
<polyline points="406.23,225.63 410.08,230.17" fill="none" stroke="#303030" stroke-width="0.85" stroke-linejoin="round" stroke-linecap="round" />
<polyline points="405.21,225.64 407.53,230.18" fill="none" stroke="#303030" stroke-width="0.85" stroke-linejoin="round" stroke-linecap="round" />
<polyline points="404.13,225.2 404.88,229.09" fill="none" stroke="#303030" stroke-width="0.85" stroke-linejoin="round" stroke-linecap="round" />
<polyline points="403.15,224.36 402.43,227.02" fill="none" stroke="#303030" stroke-width="0.85" stroke-linejoin="round" stroke-linecap="round" />
<ellipse cx="404.65" cy="222.03" rx="2.79" ry="3.99" transform="rotate(152.2 404.65 222.03)" fill="#fff" stroke="#303030" stroke-width="1" />
<ellipse cx="404.65" cy="222.03" rx="1.33" ry="1.9" transform="rotate(152.2 404.65 222.03)" fill="none" stroke="#303030" stroke-width="0.7" />
<ellipse cx="419.01" cy="213.63" rx="4" ry="8.2" transform="rotate(152.2 419.01 213.63)" fill="#fff" stroke="#2a2a2a" stroke-width="1.5" />
<ellipse cx="417.86" cy="214.23" rx="4" ry="8.2" transform="rotate(152.2 417.86 214.23)" fill="#fff" stroke="#2a2a2a" stroke-width="1.3" />
<ellipse cx="417.59" cy="214.37" rx="1.92" ry="3.69" transform="rotate(152.2 417.59 214.37)" fill="none" stroke="#303030" stroke-width="1" />
<g transform="translate(441 201.8) rotate(152.33)">
<path d="M0,-3.8 L18.52,-3.8 A1.6,3.8 0 0 1 18.52,3.8 L0,3.8 A1.6,3.8 0 0 1 0,-3.8 Z" fill="#fff" stroke="#303030" stroke-width="1.2"/>
<ellipse cx="0" cy="0" rx="1.6" ry="3.8" fill="#fff" stroke="#2a2a2a" stroke-width="1.3"/>
<path d="M2.59,-3.8 A1.6,3.8 0 0 1 2.59,3.8" fill="none" stroke="#2a2a2a" stroke-width="1.0"/>
<path d="M3.7,-3.8 A1.6,3.8 0 0 1 3.7,3.8" fill="none" stroke="#2a2a2a" stroke-width="1.0"/>
<path d="M4.81,-3.8 A1.6,3.8 0 0 1 4.81,3.8" fill="none" stroke="#2a2a2a" stroke-width="1.0"/>
<path d="M8.33,-3.8 A1.6,3.8 0 0 1 8.33,3.8" fill="none" stroke="#303030" stroke-width="0.9"/>
<path d="M13.33,-3.8 A1.6,3.8 0 0 1 13.33,3.8" fill="none" stroke="#303030" stroke-width="0.9"/>
</g>
<ellipse cx="445" cy="199.9" rx="2.4" ry="3.7" transform="rotate(-27.8 445 199.9)" fill="#fff" stroke="#222" stroke-width="1.85" />
<ellipse cx="452" cy="196.1" rx="2.6" ry="3.9" transform="rotate(-27.8 452 196.1)" fill="#fff" stroke="#222" stroke-width="1.85" />
<polyline points="301.22,278.99 301.76,280.06 302.26,281.15 302.7,282.26 301.64,283.47 301.92,284.44 302.15,285.42 302.33,286.39 304.03,287.81 304.11,288.89 304.13,289.94 304.08,290.97 302.41,290.96 302.27,291.78 302.06,292.57 301.81,293.32 302.93,295.46 302.52,296.2 302.06,296.88 301.54,297.5 299.8,296.27 299.26,296.68 298.69,297.03 298.08,297.32 298.27,299.5 297.51,299.67 296.71,299.76 295.89,299.77 294.62,297.72 293.87,297.59 293.11,297.39 292.34,297.13 291.54,298.65 290.66,298.19 289.78,297.67 288.91,297.07 288.52,294.85 287.79,294.21 287.08,293.53 286.4,292.8 284.87,293.18 284.15,292.25 283.47,291.27 282.83,290.26 283.44,288.56 282.97,287.63 282.54,286.68 282.15,285.71 280.37,284.83 280.05,283.71 279.78,282.6 279.57,281.49 280.99,280.86 280.92,279.92 280.91,279 280.95,278.11 279.48,276.25 279.65,275.3 279.88,274.4 280.18,273.55 281.95,274.19 282.31,273.54 282.71,272.95 283.16,272.41 282.48,270.16 283.09,269.69 283.75,269.28 284.45,268.96 286.01,270.67 286.68,270.52 287.38,270.44 288.1,270.43 288.41,268.5 289.27,268.65 290.15,268.87 291.03,269.18 291.89,271.41 292.66,271.8 293.43,272.26 294.19,272.78 295.4,271.79 296.23,272.52 297.05,273.3 297.83,274.14 297.71,276.18 298.34,277 298.94,277.85 299.49,278.73 301.22,278.99" fill="#fff" stroke="#303030" stroke-width="1.2" stroke-linejoin="round" stroke-linecap="round" />
<polyline points="294.81,282.44 300.62,279.31" fill="none" stroke="#303030" stroke-width="0.9" stroke-linejoin="round" stroke-linecap="round" />
<polyline points="295.93,285.04 302.37,283.43" fill="none" stroke="#303030" stroke-width="0.9" stroke-linejoin="round" stroke-linecap="round" />
<polyline points="296.53,287.65 303.26,287.6" fill="none" stroke="#303030" stroke-width="0.9" stroke-linejoin="round" stroke-linecap="round" />
<polyline points="296.57,290.08 303.21,291.48" fill="none" stroke="#303030" stroke-width="0.9" stroke-linejoin="round" stroke-linecap="round" />
<polyline points="296.03,292.11 302.23,294.77" fill="none" stroke="#303030" stroke-width="0.9" stroke-linejoin="round" stroke-linecap="round" />
<polyline points="294.97,293.6 300.41,297.19" fill="none" stroke="#303030" stroke-width="0.9" stroke-linejoin="round" stroke-linecap="round" />
<polyline points="293.47,294.41 297.88,298.55" fill="none" stroke="#303030" stroke-width="0.9" stroke-linejoin="round" stroke-linecap="round" />
<polyline points="291.64,294.48 294.85,298.75" fill="none" stroke="#303030" stroke-width="0.9" stroke-linejoin="round" stroke-linecap="round" />
<polyline points="289.65,293.8 291.56,297.75" fill="none" stroke="#303030" stroke-width="0.9" stroke-linejoin="round" stroke-linecap="round" />
<polyline points="287.64,292.44 288.3,295.65" fill="none" stroke="#303030" stroke-width="0.9" stroke-linejoin="round" stroke-linecap="round" />
<polyline points="285.79,290.5 285.3,292.62" fill="none" stroke="#303030" stroke-width="0.9" stroke-linejoin="round" stroke-linecap="round" />
<polyline points="284.24,288.13 282.83,288.89" fill="none" stroke="#303030" stroke-width="0.9" stroke-linejoin="round" stroke-linecap="round" />
<polyline points="283.12,285.54 281.08,284.78" fill="none" stroke="#303030" stroke-width="0.9" stroke-linejoin="round" stroke-linecap="round" />
<polyline points="282.52,282.92 280.2,280.61" fill="none" stroke="#303030" stroke-width="0.9" stroke-linejoin="round" stroke-linecap="round" />
<polyline points="282.48,280.5 280.24,276.72" fill="none" stroke="#303030" stroke-width="0.9" stroke-linejoin="round" stroke-linecap="round" />
<polyline points="283.02,278.46 281.22,273.44" fill="none" stroke="#303030" stroke-width="0.9" stroke-linejoin="round" stroke-linecap="round" />
<polyline points="284.08,276.98 283.05,271.01" fill="none" stroke="#303030" stroke-width="0.9" stroke-linejoin="round" stroke-linecap="round" />
<polyline points="285.59,276.17 285.58,269.65" fill="none" stroke="#303030" stroke-width="0.9" stroke-linejoin="round" stroke-linecap="round" />
<polyline points="287.41,276.1 288.61,269.46" fill="none" stroke="#303030" stroke-width="0.9" stroke-linejoin="round" stroke-linecap="round" />
<polyline points="289.4,276.77 291.89,270.45" fill="none" stroke="#303030" stroke-width="0.9" stroke-linejoin="round" stroke-linecap="round" />
<polyline points="291.41,278.13 295.16,272.55" fill="none" stroke="#303030" stroke-width="0.9" stroke-linejoin="round" stroke-linecap="round" />
<polyline points="293.26,280.08 298.15,275.59" fill="none" stroke="#303030" stroke-width="0.9" stroke-linejoin="round" stroke-linecap="round" />
<ellipse cx="289.97" cy="285.05" rx="6.4" ry="11.2" transform="rotate(-28.3 289.97 285.05)" fill="#fff" stroke="#303030" stroke-width="1" />
<g transform="translate(205 330.8) rotate(-28.3)">
<path d="M0,-3.8 L7.6,-3.8 L7.6,3.8 L0,3.8 A1.8,3.8 0 0 1 0,-3.8 Z" fill="#fff" stroke="#303030" stroke-width="1.2"/>
<ellipse cx="0.2" cy="0" rx="1.7" ry="3.8" fill="#fff" stroke="#303030" stroke-width="1.1"/>
<path d="M6.8,-6.5 L41,-6.7 L41,-7.1 L84,-7.6 L93,-10 A4,10 0 0 1 93,10 L84,7.6 L41,7.1 L41,6.7 L6.8,6.5 A2.8,6.5 0 0 1 6.8,-6.5 Z" fill="#fff" stroke="#303030" stroke-width="1.2"/>
<path d="M7.2,-6.3 L40.6,-6.5 A2.8,6.5 0 0 1 40.6,6.5 L7.2,6.3 A2.8,6.3 0 0 1 7.2,-6.3 Z" fill="#303030" stroke="none"/>
<line x1="9" y1="-5" x2="41.5" y2="-5" stroke="#8e8e8e" stroke-width="0.5"/>
<line x1="9" y1="-3.33" x2="41.5" y2="-3.33" stroke="#8e8e8e" stroke-width="0.5"/>
<line x1="9" y1="-1.66" x2="41.5" y2="-1.66" stroke="#8e8e8e" stroke-width="0.5"/>
<line x1="9" y1="0.01" x2="41.5" y2="0.01" stroke="#8e8e8e" stroke-width="0.5"/>
<line x1="9" y1="1.68" x2="41.5" y2="1.68" stroke="#8e8e8e" stroke-width="0.5"/>
<line x1="9" y1="3.35" x2="41.5" y2="3.35" stroke="#8e8e8e" stroke-width="0.5"/>
<line x1="9" y1="5.02" x2="41.5" y2="5.02" stroke="#8e8e8e" stroke-width="0.5"/>
<path d="M52,-7.2 A3,7.2 0 0 1 52,7.2" fill="none" stroke="#303030" stroke-width="0.9"/>
<path d="M77,-7.5 A3,7.5 0 0 1 77,7.5" fill="none" stroke="#303030" stroke-width="0.9"/>
<path d="M84,-7.6 A3,7.6 0 0 1 84,7.6" fill="none" stroke="#303030" stroke-width="1"/>
<path d="M57.5,-7.25 L65.8,-7.35 A3,7.35 0 0 1 65.8,7.35 L57.5,7.25 A3,7.25 0 0 0 57.5,-7.25 Z" fill="#3a3a3a" stroke="#2a2a2a" stroke-width="0.8"/>
<path d="M59.5,-7.2 A3,7.2 0 0 1 59.5,7.2" fill="none" stroke="#8a8a8a" stroke-width="0.5"/>
<path d="M61.6,-7.2 A3,7.2 0 0 1 61.6,7.2" fill="none" stroke="#8a8a8a" stroke-width="0.5"/>
<path d="M63.7,-7.2 A3,7.2 0 0 1 63.7,7.2" fill="none" stroke="#8a8a8a" stroke-width="0.5"/>
</g>
<ellipse cx="192.15" cy="338.73" rx="11" ry="16.2" transform="rotate(-30.5 192.15 338.73)" fill="#fff" stroke="#303030" stroke-width="1.2" />
<polyline points="200.38,352.69 196.07,355.23" fill="none" stroke="#303030" stroke-width="1.35" stroke-linejoin="round" stroke-linecap="round" />
<polyline points="183.93,324.77 179.62,327.31" fill="none" stroke="#303030" stroke-width="1.35" stroke-linejoin="round" stroke-linecap="round" />
<ellipse cx="187.85" cy="341.27" rx="11" ry="16.2" transform="rotate(-30.5 187.85 341.27)" fill="#fff" stroke="#303030" stroke-width="1.2" />
<ellipse cx="187.85" cy="341.27" rx="8.8" ry="13.28" transform="rotate(-30.5 187.85 341.27)" fill="none" stroke="#303030" stroke-width="0.8" />
<ellipse cx="187.85" cy="341.27" rx="7.7" ry="11.66" transform="rotate(-30.5 187.85 341.27)" fill="none" stroke="#3c3c3c" stroke-width="2" stroke-dasharray="1.3 1.1"/>
<ellipse cx="187.85" cy="341.27" rx="6.6" ry="9.72" transform="rotate(-30.5 187.85 341.27)" fill="#fff" stroke="#303030" stroke-width="1" />
<ellipse cx="186.81" cy="341.88" rx="5.28" ry="7.78" transform="rotate(-30.5 186.81 341.88)" fill="none" stroke="#303030" stroke-width="0.8" />
<ellipse cx="168" cy="353.2" rx="9.7" ry="15.9" transform="rotate(-30.5 168 353.2)" fill="#fff" stroke="#2e2e2e" stroke-width="1.5" />
<ellipse cx="169" cy="352.6" rx="8.4" ry="14.2" transform="rotate(-30.5 169 352.6)" fill="none" stroke="#303030" stroke-width="0.9" />
<polyline points="163,356 175,349" fill="none" stroke="#777" stroke-width="0.6" stroke-linejoin="round" stroke-linecap="round" />
<ellipse cx="151.24" cy="361.21" rx="5.8" ry="9.3" transform="rotate(-30.5 151.24 361.21)" fill="#fff" stroke="#303030" stroke-width="1" />
<polygon points="155.96,369.22 146.48,374.8 137.04,358.78 146.52,353.2" fill="#fff" stroke="none"/>
<polyline points="155.96,369.22 146.48,374.8" fill="none" stroke="#303030" stroke-width="1.35" stroke-linejoin="round" stroke-linecap="round" />
<polyline points="146.52,353.2 137.04,358.78" fill="none" stroke="#303030" stroke-width="1.35" stroke-linejoin="round" stroke-linecap="round" />
<ellipse cx="141.76" cy="366.79" rx="5.8" ry="9.3" transform="rotate(-30.5 141.76 366.79)" fill="#fff" stroke="#303030" stroke-width="1.2" />
<ellipse cx="141.76" cy="366.79" rx="4.6" ry="7.8" transform="rotate(-30.5 141.76 366.79)" fill="none" stroke="#303030" stroke-width="0.8" />
<ellipse cx="132.2" cy="373.2" rx="6.1" ry="10" transform="rotate(-30.5 132.2 373.2)" fill="#fff" stroke="#2a2a2a" stroke-width="1.9" />
<ellipse cx="133.2" cy="372.7" rx="4.8" ry="8.4" transform="rotate(-30.5 133.2 372.7)" fill="none" stroke="#303030" stroke-width="0.8" />
<ellipse cx="116.02" cy="381.22" rx="11.5" ry="17" transform="rotate(-30.5 116.02 381.22)" fill="#fff" stroke="#303030" stroke-width="1.2" />
<polyline points="124.64,395.87 118.61,399.42" fill="none" stroke="#303030" stroke-width="1.35" stroke-linejoin="round" stroke-linecap="round" />
<polyline points="107.39,366.58 101.36,370.13" fill="none" stroke="#303030" stroke-width="1.35" stroke-linejoin="round" stroke-linecap="round" />
<ellipse cx="109.98" cy="384.78" rx="11.5" ry="17" transform="rotate(-30.5 109.98 384.78)" fill="#fff" stroke="#303030" stroke-width="1.2" />
<ellipse cx="109.98" cy="384.78" rx="9.2" ry="13.94" transform="rotate(-30.5 109.98 384.78)" fill="none" stroke="#303030" stroke-width="0.8" />
<ellipse cx="109.98" cy="384.78" rx="8.05" ry="12.24" transform="rotate(-30.5 109.98 384.78)" fill="none" stroke="#3c3c3c" stroke-width="2" stroke-dasharray="1.3 1.1"/>
<ellipse cx="109.98" cy="384.78" rx="6.9" ry="10.2" transform="rotate(-30.5 109.98 384.78)" fill="#fff" stroke="#303030" stroke-width="1" />
<ellipse cx="108.95" cy="385.39" rx="5.29" ry="7.82" transform="rotate(-30.5 108.95 385.39)" fill="none" stroke="#303030" stroke-width="0.8" />
<ellipse cx="93.77" cy="393.55" rx="6.7" ry="13" transform="rotate(-30.5 93.77 393.55)" fill="#fff" stroke="#303030" stroke-width="1.3" />
<polygon points="95.2,407.8 100.37,404.76 87.17,382.35 82,385.4" fill="#fff" stroke="none"/>
<polyline points="95.2,407.8 100.37,404.76" fill="none" stroke="#303030" stroke-width="1.3" stroke-linejoin="round" stroke-linecap="round" />
<polyline points="82,385.4 87.17,382.35" fill="none" stroke="#303030" stroke-width="1.3" stroke-linejoin="round" stroke-linecap="round" />
<polyline points="89.54,387.39 94.71,384.34" fill="none" stroke="#303030" stroke-width="0.9" stroke-linejoin="round" stroke-linecap="round" />
<polyline points="96.62,398.25 101.79,395.21" fill="none" stroke="#303030" stroke-width="0.9" stroke-linejoin="round" stroke-linecap="round" />
<ellipse cx="88.6" cy="396.6" rx="6.7" ry="13" transform="rotate(-30.5 88.6 396.6)" fill="#fff" stroke="#2a2a2a" stroke-width="1.5" />
<ellipse cx="88.43" cy="396.7" rx="4.3" ry="8" transform="rotate(-30.5 88.43 396.7)" fill="#8a8a8a" stroke="#262626" stroke-width="1.9" />
<ellipse cx="89.2" cy="396.24" rx="3" ry="6.2" transform="rotate(-30.5 89.2 396.24)" fill="#c8c8c8" stroke="#555" stroke-width="0.6" />
<ellipse cx="70.6" cy="408.2" rx="11.2" ry="17.4" transform="rotate(-30.5 70.6 408.2)" fill="#fff" stroke="#2e2e2e" stroke-width="1.4" />
<ellipse cx="69" cy="407.2" rx="11.2" ry="17.4" transform="rotate(-30.5 69 407.2)" fill="#fff" stroke="#303030" stroke-width="1.1" />
<ellipse cx="69.2" cy="408.6" rx="6.6" ry="11.4" transform="rotate(-30.5 69.2 408.6)" fill="#fff" stroke="#2e2e2e" stroke-width="1.7" />
<ellipse cx="70.2" cy="408.2" rx="5.2" ry="9.6" transform="rotate(-30.5 70.2 408.2)" fill="none" stroke="#303030" stroke-width="0.8" />
<polyline points="66,410 73,406.5" fill="none" stroke="#777" stroke-width="0.6" stroke-linejoin="round" stroke-linecap="round" />
<g clip-path="url(#cutl)">
<ellipse cx="50.2" cy="421" rx="10.6" ry="18.4" transform="rotate(-30.5 50.2 421)" fill="#fff" stroke="#2e2e2e" stroke-width="1.5" />
<ellipse cx="48.8" cy="420.2" rx="10.6" ry="18.4" transform="rotate(-30.5 48.8 420.2)" fill="#fff" stroke="#303030" stroke-width="1" />
<ellipse cx="48.6" cy="421.5" rx="5.6" ry="10.5" transform="rotate(-30.5 48.6 421.5)" fill="none" stroke="#2b2b2b" stroke-width="2" />
<ellipse cx="49" cy="421.5" rx="3.8" ry="7.8" transform="rotate(-30.5 49 421.5)" fill="none" stroke="#303030" stroke-width="0.8" />
</g>
<ellipse cx="370.95" cy="477.43" rx="19.5" ry="30" transform="rotate(28.5 370.95 477.43)" fill="#fff" stroke="#2e2e2e" stroke-width="1.5" />
<ellipse cx="372" cy="478" rx="19.5" ry="30" transform="rotate(28.5 372 478)" fill="#fff" stroke="#2e2e2e" stroke-width="1.6" />
<ellipse cx="373.76" cy="478.95" rx="18.3" ry="28.4" transform="rotate(28.5 373.76 478.95)" fill="none" stroke="#303030" stroke-width="0.9" />
<ellipse cx="346.2" cy="463.9" rx="8.2" ry="11.2" transform="rotate(28.5 346.2 463.9)" fill="#fff" stroke="#2b2b2b" stroke-width="1.8" />
<ellipse cx="346.2" cy="463.9" rx="6.6" ry="9.4" transform="rotate(28.5 346.2 463.9)" fill="none" stroke="#303030" stroke-width="0.7" />
<polyline points="342.5,461 349,465" fill="none" stroke="#777" stroke-width="0.6" stroke-linejoin="round" stroke-linecap="round" />
<polygon points="364.8,465.4 368.9,460.8 380.5,456.6 391.5,459.8 395.2,464.3 409.8,471.3 409.8,477.5 412,490 391.1,508.6 384.7,511.5 370.1,504.5 359,497 355.5,485.5 355.5,483.5" fill="#fff" stroke="none"/>
<polyline points="368.9,460.8 384.1,468.3 384.1,477.1" fill="none" stroke="#303030" stroke-width="1.1" stroke-linejoin="round" stroke-linecap="round" />
<polyline points="384.1,468.3 395.2,464.3 409.8,471.3 409.8,477.5" fill="none" stroke="#303030" stroke-width="1.1" stroke-linejoin="round" stroke-linecap="round" />
<polyline points="368.9,460.8 380.5,456.6" fill="none" stroke="#303030" stroke-width="0.9" stroke-linejoin="round" stroke-linecap="round" />
<polyline points="391.5,459.8 395.2,464.3" fill="none" stroke="#303030" stroke-width="0.9" stroke-linejoin="round" stroke-linecap="round" />
<polyline points="368.9,460.8 368.9,465.4" fill="none" stroke="#303030" stroke-width="0.9" stroke-linejoin="round" stroke-linecap="round" />
<polyline points="368.9,465.4 381,471.5" fill="none" stroke="#303030" stroke-width="0.8" stroke-linejoin="round" stroke-linecap="round" />
<polyline points="364.8,465.4 355.5,483.5" fill="none" stroke="#303030" stroke-width="1" stroke-linejoin="round" stroke-linecap="round" />
<polyline points="364.8,465.4 368.9,465.4" fill="none" stroke="#303030" stroke-width="0.8" stroke-linejoin="round" stroke-linecap="round" />
<polyline points="355.5,483.5 377.7,489.3" fill="none" stroke="#303030" stroke-width="0.9" stroke-linejoin="round" stroke-linecap="round" />
<polyline points="355.5,485.5 370.1,491.7 370.1,504.5 384.7,511.5 391.1,508.6" fill="none" stroke="#303030" stroke-width="1.1" stroke-linejoin="round" stroke-linecap="round" />
<polyline points="370.1,491.7 377.7,489.3" fill="none" stroke="#303030" stroke-width="0.9" stroke-linejoin="round" stroke-linecap="round" />
<polyline points="384.7,511.5 384.7,505.7" fill="none" stroke="#303030" stroke-width="0.9" stroke-linejoin="round" stroke-linecap="round" />
<polyline points="355.5,485.5 357,495 370.1,504.5" fill="none" stroke="#303030" stroke-width="1" stroke-linejoin="round" stroke-linecap="round" />
<polyline points="384.1,477.1 392,474" fill="none" stroke="#303030" stroke-width="0.8" stroke-linejoin="round" stroke-linecap="round" />
<polyline points="395.2,464.3 395.2,470" fill="none" stroke="#303030" stroke-width="0.8" stroke-linejoin="round" stroke-linecap="round" />
<ellipse cx="383.5" cy="460.8" rx="4.6" ry="2.9" transform="rotate(8 383.5 460.8)" fill="none" stroke="#2e2e2e" stroke-width="1.3" />
<ellipse cx="384" cy="461.4" rx="3" ry="1.8" transform="rotate(8 384 461.4)" fill="none" stroke="#303030" stroke-width="0.8" />
<ellipse cx="371.3" cy="477.1" rx="4" ry="4.9" transform="rotate(28.5 371.3 477.1)" fill="none" stroke="#2e2e2e" stroke-width="1.2" />
<ellipse cx="372" cy="477.4" rx="2.6" ry="3.4" transform="rotate(28.5 372 477.4)" fill="none" stroke="#303030" stroke-width="0.8" />
<ellipse cx="363.7" cy="495.2" rx="3.8" ry="5" transform="rotate(28.5 363.7 495.2)" fill="none" stroke="#2e2e2e" stroke-width="1.3" />
<ellipse cx="364.4" cy="495.5" rx="2.4" ry="3.4" transform="rotate(28.5 364.4 495.5)" fill="none" stroke="#303030" stroke-width="0.8" />
<circle cx="366" cy="466.8" r="1.2" fill="#333"/>
<circle cx="359.6" cy="478.3" r="1.3" fill="#333"/>
<polyline points="366,468 360,477" fill="none" stroke="#666" stroke-width="0.6" stroke-linejoin="round" stroke-linecap="round" />
<ellipse cx="397.6" cy="492.9" rx="15.1" ry="18.8" transform="rotate(28.5 397.6 492.9)" fill="#fff" stroke="#303030" stroke-width="1.2" />
<ellipse cx="403.2" cy="496" rx="11.6" ry="14.9" transform="rotate(28.5 403.2 496)" fill="#fff" stroke="#2a2a2a" stroke-width="1.9" />
<ellipse cx="404.4" cy="496.6" rx="9.8" ry="12.8" transform="rotate(28.5 404.4 496.6)" fill="none" stroke="#303030" stroke-width="0.8" />
<ellipse cx="405.8" cy="497" rx="6.6" ry="9.4" transform="rotate(28.5 405.8 497)" fill="#fff" stroke="#303030" stroke-width="1" />
<polygon points="401.31,505.26 405.11,507.16 414.09,490.64 410.29,488.74" fill="#fff"/>
<polyline points="401.31,505.26 405.11,507.16" fill="none" stroke="#303030" stroke-width="0.9" stroke-linejoin="round" stroke-linecap="round" />
<polyline points="410.29,488.74 414.09,490.64" fill="none" stroke="#303030" stroke-width="0.9" stroke-linejoin="round" stroke-linecap="round" />
<ellipse cx="409.6" cy="498.9" rx="6.6" ry="9.4" transform="rotate(28.5 409.6 498.9)" fill="#fff" stroke="#2e2e2e" stroke-width="1.4" />
<ellipse cx="409.95" cy="499.09" rx="4.9" ry="7.2" transform="rotate(28.5 409.95 499.09)" fill="none" stroke="#303030" stroke-width="0.8" />
<polyline points="410.1,499.4 415.6,502.2" fill="none" stroke="#666" stroke-width="0.6" stroke-linejoin="round" stroke-linecap="round" />
<ellipse cx="424.25" cy="506.45" rx="10.8" ry="17" transform="rotate(28.5 424.25 506.45)" fill="#fff" stroke="#2e2e2e" stroke-width="1.5" />
<polyline points="416.13,521.39 420.09,523.54" fill="none" stroke="#303030" stroke-width="1.35" stroke-linejoin="round" stroke-linecap="round" />
<polyline points="432.36,491.51 436.31,493.66" fill="none" stroke="#303030" stroke-width="1.35" stroke-linejoin="round" stroke-linecap="round" />
<ellipse cx="428.2" cy="508.6" rx="10.8" ry="17" transform="rotate(28.5 428.2 508.6)" fill="#fff" stroke="#2e2e2e" stroke-width="1.4" />
<ellipse cx="427.76" cy="508.36" rx="9.2" ry="14.8" transform="rotate(28.5 427.76 508.36)" fill="none" stroke="#303030" stroke-width="0.9" />
<ellipse cx="428.02" cy="508.5" rx="7.8" ry="12.6" transform="rotate(28.5 428.02 508.5)" fill="none" stroke="#444" stroke-width="1.7" stroke-dasharray="1.3 1.1"/>
<ellipse cx="428.46" cy="508.74" rx="6.6" ry="10.8" transform="rotate(28.5 428.46 508.74)" fill="#fff" stroke="#2e2e2e" stroke-width="1.5" />
<ellipse cx="428.9" cy="508.98" rx="5.3" ry="8.8" transform="rotate(28.5 428.9 508.98)" fill="none" stroke="#303030" stroke-width="0.8" />
<polyline points="423.2,506.6 432.2,511.1" fill="none" stroke="#777" stroke-width="0.6" stroke-linejoin="round" stroke-linecap="round" />
<ellipse cx="447.84" cy="520.68" rx="12" ry="17.3" transform="rotate(28.5 447.84 520.68)" fill="#303030" stroke="#2a2a2a" stroke-width="1.4" />
<ellipse cx="449.68" cy="521.68" rx="12" ry="17.3" transform="rotate(28.5 449.68 521.68)" fill="#383838" stroke="#303030" stroke-width="1" />
<polyline points="446.07,536.42 450.12,538.61" fill="none" stroke="#a8a8a8" stroke-width="0.9" stroke-linejoin="round" stroke-linecap="round" />
<polyline points="442.67,536.7 446.72,538.9" fill="none" stroke="#a8a8a8" stroke-width="0.9" stroke-linejoin="round" stroke-linecap="round" />
<polyline points="439.6,535.89 443.65,538.08" fill="none" stroke="#a8a8a8" stroke-width="0.9" stroke-linejoin="round" stroke-linecap="round" />
<polyline points="437.07,534.02 441.11,536.21" fill="none" stroke="#a8a8a8" stroke-width="0.9" stroke-linejoin="round" stroke-linecap="round" />
<polyline points="435.25,531.23 439.29,533.42" fill="none" stroke="#a8a8a8" stroke-width="0.9" stroke-linejoin="round" stroke-linecap="round" />
<polyline points="434.26,527.71 438.3,529.9" fill="none" stroke="#a8a8a8" stroke-width="0.9" stroke-linejoin="round" stroke-linecap="round" />
<polyline points="434.17,523.69 438.21,525.89" fill="none" stroke="#a8a8a8" stroke-width="0.9" stroke-linejoin="round" stroke-linecap="round" />
<polyline points="434.99,519.46 439.03,521.66" fill="none" stroke="#a8a8a8" stroke-width="0.9" stroke-linejoin="round" stroke-linecap="round" />
<polyline points="436.66,515.3 440.7,517.49" fill="none" stroke="#a8a8a8" stroke-width="0.9" stroke-linejoin="round" stroke-linecap="round" />
<polyline points="439.07,511.49 443.11,513.69" fill="none" stroke="#a8a8a8" stroke-width="0.9" stroke-linejoin="round" stroke-linecap="round" />
<polyline points="442.05,508.3 446.09,510.49" fill="none" stroke="#a8a8a8" stroke-width="0.9" stroke-linejoin="round" stroke-linecap="round" />
<polyline points="445.4,505.93 449.44,508.13" fill="none" stroke="#a8a8a8" stroke-width="0.9" stroke-linejoin="round" stroke-linecap="round" />
<polyline points="448.9,504.56 452.94,506.76" fill="none" stroke="#a8a8a8" stroke-width="0.9" stroke-linejoin="round" stroke-linecap="round" />
<polyline points="463.47,529.17 463.12,529.79 462.76,530.39 462.38,530.99 461.47,531.11 461.08,531.65 460.68,532.18 460.27,532.69 460.27,533.76 459.81,534.27 459.33,534.76 458.85,535.23 458.03,535.01 457.55,535.42 457.07,535.82 456.58,536.19 456.29,537.31 455.76,537.66 455.22,537.99 454.68,538.29 454.03,537.74 453.51,537.99 452.99,538.21 452.47,538.41 451.93,539.47 451.37,539.63 450.82,539.76 450.28,539.87 449.87,539.05 449.36,539.1 448.85,539.13 448.35,539.13 447.6,540.02 447.08,539.98 446.57,539.9 446.07,539.8 445.95,538.79 445.49,538.65 445.05,538.48 444.62,538.29 443.73,538.93 443.3,538.68 442.88,538.4 442.48,538.11 442.65,537 442.29,536.67 441.96,536.33 441.64,535.96 440.71,536.28 440.4,535.85 440.12,535.41 439.85,534.94 440.29,533.84 440.08,533.37 439.88,532.88 439.7,532.37 438.82,532.35 438.67,531.78 438.55,531.21 438.45,530.62 439.11,529.64 439.06,529.06 439.02,528.48 439,527.88 438.25,527.51 438.28,526.87 438.33,526.22 438.39,525.56 439.23,524.8 439.34,524.18 439.46,523.55 439.61,522.92 439.06,522.24 439.26,521.58 439.47,520.92 439.71,520.26 440.63,519.8 440.89,519.19 441.16,518.58 441.46,517.98 441.17,517.06 441.51,516.45 441.88,515.84 442.25,515.25 443.17,515.12 443.56,514.58 443.96,514.05 444.37,513.54 444.37,512.47 444.83,511.96 445.3,511.47 445.79,511 446.61,511.22 447.08,510.81 447.57,510.41 448.06,510.04 448.34,508.92 448.88,508.57 449.41,508.24 449.96,507.94 450.6,508.49 451.12,508.24 451.64,508.02 452.17,507.82 452.71,506.77 453.26,506.61 453.81,506.47 454.36,506.36 454.77,507.19 455.28,507.13 455.79,507.1 456.29,507.1 457.04,506.21 457.55,506.25 458.06,506.33 458.56,506.43 458.69,507.44 459.14,507.59 459.59,507.75 460.02,507.94 460.9,507.3 461.33,507.55 461.75,507.83 462.15,508.13 461.99,509.24 462.34,509.56 462.68,509.91 463,510.27 463.93,509.95 464.23,510.38 464.52,510.82 464.78,511.29 464.35,512.39 464.56,512.86 464.76,513.35 464.93,513.86 465.82,513.88 465.96,514.45 466.09,515.02 466.19,515.61 465.52,516.59 465.58,517.17 465.62,517.76 465.63,518.35 466.39,518.72 466.36,519.37 466.31,520.02 466.24,520.67 465.41,521.43 465.3,522.05 465.17,522.68 465.03,523.31 465.58,523.99 465.38,524.65 465.16,525.31 464.93,525.97 464.01,526.43 463.75,527.05 463.47,527.65 463.18,528.25 463.47,529.17" fill="#fff" stroke="#303030" stroke-width="1.5" stroke-linejoin="round" stroke-linecap="round" />
<ellipse cx="452.32" cy="523.12" rx="10" ry="14.5" transform="rotate(28.5 452.32 523.12)" fill="none" stroke="#303030" stroke-width="1" />
<ellipse cx="451.18" cy="522.5" rx="8.4" ry="12.3" transform="rotate(28.5 451.18 522.5)" fill="none" stroke="#303030" stroke-width="0.9" />
<ellipse cx="470.3" cy="506.8" rx="4.3" ry="2.5" transform="rotate(27 470.3 506.8)" fill="#2e2e2e" stroke="#2a2a2a" stroke-width="1" />
<ellipse cx="471.6" cy="507.6" rx="2.2" ry="1.6" transform="rotate(27 471.6 507.6)" fill="#555" stroke="#777" stroke-width="0.6" />
<text transform="translate(59.9 59.4) scale(0.62 1)" font-family="Liberation Serif" font-size="14.4" fill="#7e7e7e">2</text>
<text transform="translate(67.1 59.4) scale(0.62 1)" font-family="Liberation Serif" font-size="14.4" fill="#7e7e7e">3</text>
<text transform="translate(59.7 95.2) scale(0.62 1)" font-family="Liberation Serif" font-size="14.4" fill="#7e7e7e">2</text>
<text transform="translate(66.9 95.2) scale(0.62 1)" font-family="Liberation Serif" font-size="14.4" fill="#7e7e7e">4</text>
<text transform="translate(60.2 113.4) scale(0.62 1)" font-family="Liberation Serif" font-size="14.4" fill="#7e7e7e">1</text>
<text transform="translate(67.4 113.4) scale(0.62 1)" font-family="Liberation Serif" font-size="14.4" fill="#7e7e7e">4</text>
<text transform="translate(52.7 150.2) scale(0.62 1)" font-family="Liberation Serif" font-size="14.4" fill="#7e7e7e">1</text>
<text transform="translate(59.9 150.2) scale(0.62 1)" font-family="Liberation Serif" font-size="14.4" fill="#7e7e7e">5</text>
<text transform="translate(101.5 183.5) scale(0.62 1)" font-family="Liberation Serif" font-size="14.4" fill="#7e7e7e">5</text>
<text transform="translate(134 260.7) scale(0.62 1)" font-family="Liberation Serif" font-size="14.4" fill="#7e7e7e">1</text>
<text transform="translate(141.2 260.7) scale(0.62 1)" font-family="Liberation Serif" font-size="14.4" fill="#7e7e7e">3</text>
<text transform="translate(133.5 308) scale(0.62 1)" font-family="Liberation Serif" font-size="14.4" fill="#7e7e7e">1</text>
<text transform="translate(140.7 308) scale(0.62 1)" font-family="Liberation Serif" font-size="14.4" fill="#7e7e7e">2</text>
<text transform="translate(134.5 326.5) scale(0.62 1)" font-family="Liberation Serif" font-size="14.4" fill="#7e7e7e">1</text>
<text transform="translate(141.7 326.5) scale(0.62 1)" font-family="Liberation Serif" font-size="14.4" fill="#7e7e7e">1</text>
<text transform="translate(187.3 378.8) scale(0.62 1)" font-family="Liberation Serif" font-size="14.4" fill="#7e7e7e">9</text>
<text transform="translate(189.3 397.8) scale(0.62 1)" font-family="Liberation Serif" font-size="14.4" fill="#7e7e7e">1</text>
<text transform="translate(196.5 397.8) scale(0.62 1)" font-family="Liberation Serif" font-size="14.4" fill="#7e7e7e">0</text>
<text transform="translate(188.4 415.1) scale(0.62 1)" font-family="Liberation Serif" font-size="14.4" fill="#7e7e7e">1</text>
<text transform="translate(195.6 415.1) scale(0.62 1)" font-family="Liberation Serif" font-size="14.4" fill="#7e7e7e">2</text>
<text transform="translate(113.8 432) scale(0.62 1)" font-family="Liberation Serif" font-size="14.4" fill="#7e7e7e">8</text>
<text transform="translate(115.6 451.2) scale(0.62 1)" font-family="Liberation Serif" font-size="14.4" fill="#7e7e7e">4</text>
<text transform="translate(460.5 256) scale(0.62 1)" font-family="Liberation Serif" font-size="14.4" fill="#7e7e7e">2</text>
<text transform="translate(468.2 256) scale(0.62 1)" font-family="Liberation Serif" font-size="14.4" fill="#7e7e7e">9</text>
<rect x="308.3" y="108.3" width="15.4" height="13.9" rx="2.4" ry="2.4" fill="#b2bcee" stroke="#979fe0" stroke-width="1.2"/>
<text transform="translate(310.55 120) scale(0.66 1)" font-family="Liberation Serif" font-size="13.8" fill="#6170b0">2</text>
<text transform="translate(316.85 120) scale(0.66 1)" font-family="Liberation Serif" font-size="13.8" fill="#6170b0">2</text>
<circle cx="331" cy="116" r="4.2" fill="#000"/>
<rect x="309.8" y="138.3" width="14.9" height="13.9" rx="2.4" ry="2.4" fill="#b2bcee" stroke="#979fe0" stroke-width="1.2"/>
<text transform="translate(311.8 150) scale(0.66 1)" font-family="Liberation Serif" font-size="13.8" fill="#6170b0">2</text>
<text transform="translate(318.1 150) scale(0.66 1)" font-family="Liberation Serif" font-size="13.8" fill="#6170b0">5</text>
<circle cx="332" cy="146" r="4.2" fill="#000"/>
<rect x="318.3" y="169.3" width="15.4" height="14.4" rx="2.4" ry="2.4" fill="#b2bcee" stroke="#979fe0" stroke-width="1.2"/>
<text transform="translate(323.7 181.5) scale(0.66 1)" font-family="Liberation Serif" font-size="13.8" fill="#6170b0">1</text>
<circle cx="339.5" cy="175.5" r="4.2" fill="#000"/>
<rect x="242.8" y="226.8" width="14.9" height="13.4" rx="2.4" ry="2.4" fill="#b2bcee" stroke="#979fe0" stroke-width="1.2"/>
<text transform="translate(244.8 238) scale(0.66 1)" font-family="Liberation Serif" font-size="13.8" fill="#6170b0">2</text>
<text transform="translate(251.1 238) scale(0.66 1)" font-family="Liberation Serif" font-size="13.8" fill="#6170b0">6</text>
<circle cx="265.5" cy="234" r="4.2" fill="#000"/>
<rect x="280.5" y="242.3" width="8.2" height="13.4" rx="2.4" ry="2.4" fill="#b2bcee" stroke="#979fe0" stroke-width="1.2"/>
<text transform="translate(282.3 253.5) scale(0.66 1)" font-family="Liberation Serif" font-size="13.8" fill="#6170b0">6</text>
<rect x="279.6" y="314.3" width="14.8" height="13.4" rx="2.4" ry="2.4" fill="#b2bcee" stroke="#979fe0" stroke-width="1.2"/>
<text transform="translate(281.55 325.5) scale(0.66 1)" font-family="Liberation Serif" font-size="13.8" fill="#6170b0">2</text>
<text transform="translate(287.85 325.5) scale(0.66 1)" font-family="Liberation Serif" font-size="13.8" fill="#6170b0">0</text>
<circle cx="270" cy="320.7" r="4.2" fill="#000"/>
<rect x="279.8" y="332.3" width="14.6" height="13.4" rx="2.4" ry="2.4" fill="#b2bcee" stroke="#979fe0" stroke-width="1.2"/>
<text transform="translate(281.65 343.5) scale(0.66 1)" font-family="Liberation Serif" font-size="13.8" fill="#6170b0">1</text>
<text transform="translate(287.95 343.5) scale(0.66 1)" font-family="Liberation Serif" font-size="13.8" fill="#6170b0">9</text>
<circle cx="270.3" cy="339.5" r="4.2" fill="#000"/>
<rect x="279.8" y="350.3" width="14.6" height="13.4" rx="2.4" ry="2.4" fill="#b2bcee" stroke="#979fe0" stroke-width="1.2"/>
<text transform="translate(281.65 361.5) scale(0.66 1)" font-family="Liberation Serif" font-size="13.8" fill="#6170b0">2</text>
<text transform="translate(287.95 361.5) scale(0.66 1)" font-family="Liberation Serif" font-size="13.8" fill="#6170b0">1</text>
<circle cx="271" cy="357.5" r="4.2" fill="#000"/>
<rect x="279.8" y="367.8" width="14.9" height="13.9" rx="2.4" ry="2.4" fill="#b2bcee" stroke="#979fe0" stroke-width="1.2"/>
<text transform="translate(281.8 379.5) scale(0.66 1)" font-family="Liberation Serif" font-size="13.8" fill="#6170b0">1</text>
<text transform="translate(288.1 379.5) scale(0.66 1)" font-family="Liberation Serif" font-size="13.8" fill="#6170b0">8</text>
<defs><linearGradient id="hg" x1="0" y1="0" x2="0" y2="1"><stop offset="0" stop-color="#9a9a9a"/><stop offset="0.45" stop-color="#444"/><stop offset="1" stop-color="#000"/></linearGradient></defs>
<circle cx="270.5" cy="375" r="4.2" fill="url(#hg)"/>
<rect x="403.3" y="314.3" width="14.9" height="13.4" rx="2.4" ry="2.4" fill="#b2bcee" stroke="#979fe0" stroke-width="1.2"/>
<text transform="translate(405.3 325.5) scale(0.66 1)" font-family="Liberation Serif" font-size="13.8" fill="#6170b0">1</text>
<text transform="translate(411.6 325.5) scale(0.66 1)" font-family="Liberation Serif" font-size="13.8" fill="#6170b0">8</text>
<rect x="403.8" y="332.8" width="14.9" height="12.9" rx="2.4" ry="2.4" fill="#b2bcee" stroke="#979fe0" stroke-width="1.2"/>
<text transform="translate(405.8 343.5) scale(0.66 1)" font-family="Liberation Serif" font-size="13.8" fill="#6170b0">2</text>
<text transform="translate(412.1 343.5) scale(0.66 1)" font-family="Liberation Serif" font-size="13.8" fill="#6170b0">1</text>
<rect x="403.8" y="350.8" width="14.9" height="12.9" rx="2.4" ry="2.4" fill="#b2bcee" stroke="#979fe0" stroke-width="1.2"/>
<text transform="translate(405.8 361.5) scale(0.66 1)" font-family="Liberation Serif" font-size="13.8" fill="#6170b0">1</text>
<text transform="translate(412.1 361.5) scale(0.66 1)" font-family="Liberation Serif" font-size="13.8" fill="#6170b0">9</text>
<rect x="403.8" y="368.3" width="14.9" height="12.9" rx="2.4" ry="2.4" fill="#b2bcee" stroke="#979fe0" stroke-width="1.2"/>
<text transform="translate(405.8 379) scale(0.66 1)" font-family="Liberation Serif" font-size="13.8" fill="#6170b0">2</text>
<text transform="translate(412.1 379) scale(0.66 1)" font-family="Liberation Serif" font-size="13.8" fill="#6170b0">0</text>
<rect x="404.3" y="386.3" width="8.9" height="12.9" rx="2.4" ry="2.4" fill="#b2bcee" stroke="#979fe0" stroke-width="1.2"/>
<text transform="translate(406.45 397) scale(0.66 1)" font-family="Liberation Serif" font-size="13.8" fill="#6170b0">6</text>
<rect x="396.3" y="53.3" width="8.4" height="13.4" rx="2.4" ry="2.4" fill="#b2bcee" stroke="#979fe0" stroke-width="1.2"/>
<text transform="translate(398.2 64.5) scale(0.66 1)" font-family="Liberation Serif" font-size="13.8" fill="#6170b0">6</text>
<circle cx="414.3" cy="60.4" r="4.2" fill="#000"/>
<rect x="394.9" y="71.6" width="14.8" height="13.5" rx="2.4" ry="2.4" fill="#b2bcee" stroke="#979fe0" stroke-width="1.2"/>
<text transform="translate(396.85 82.9) scale(0.66 1)" font-family="Liberation Serif" font-size="13.8" fill="#6170b0">2</text>
<text transform="translate(403.15 82.9) scale(0.66 1)" font-family="Liberation Serif" font-size="13.8" fill="#6170b0">0</text>
<rect x="394.9" y="90" width="14.8" height="13.4" rx="2.4" ry="2.4" fill="#b2bcee" stroke="#979fe0" stroke-width="1.2"/>
<text transform="translate(396.85 101.2) scale(0.66 1)" font-family="Liberation Serif" font-size="13.8" fill="#6170b0">1</text>
<text transform="translate(403.15 101.2) scale(0.66 1)" font-family="Liberation Serif" font-size="13.8" fill="#6170b0">9</text>
<rect x="394.7" y="107.5" width="14.8" height="13.8" rx="2.4" ry="2.4" fill="#b2bcee" stroke="#979fe0" stroke-width="1.2"/>
<text transform="translate(396.65 119.1) scale(0.66 1)" font-family="Liberation Serif" font-size="13.8" fill="#6170b0">2</text>
<text transform="translate(402.95 119.1) scale(0.66 1)" font-family="Liberation Serif" font-size="13.8" fill="#6170b0">1</text>
<rect x="395.3" y="126.3" width="14.4" height="13.4" rx="2.4" ry="2.4" fill="#b2bcee" stroke="#979fe0" stroke-width="1.2"/>
<text transform="translate(397.05 137.5) scale(0.66 1)" font-family="Liberation Serif" font-size="13.8" fill="#6170b0">1</text>
<text transform="translate(403.35 137.5) scale(0.66 1)" font-family="Liberation Serif" font-size="13.8" fill="#6170b0">8</text>
<circle cx="418.2" cy="133" r="4.2" fill="#000"/>
<rect x="456.3" y="126.3" width="14.9" height="13.4" rx="2.4" ry="2.4" fill="#b2bcee" stroke="#979fe0" stroke-width="1.2"/>
<text transform="translate(458.3 137.5) scale(0.66 1)" font-family="Liberation Serif" font-size="13.8" fill="#6170b0">2</text>
<text transform="translate(464.6 137.5) scale(0.66 1)" font-family="Liberation Serif" font-size="13.8" fill="#6170b0">1</text>
<rect x="456.3" y="143.8" width="14.9" height="13.4" rx="2.4" ry="2.4" fill="#b2bcee" stroke="#979fe0" stroke-width="1.2"/>
<text transform="translate(458.3 155) scale(0.66 1)" font-family="Liberation Serif" font-size="13.8" fill="#6170b0">1</text>
<text transform="translate(464.6 155) scale(0.66 1)" font-family="Liberation Serif" font-size="13.8" fill="#6170b0">9</text>
<rect x="456.3" y="161.3" width="14.9" height="13.4" rx="2.4" ry="2.4" fill="#b2bcee" stroke="#979fe0" stroke-width="1.2"/>
<text transform="translate(458.3 172.5) scale(0.66 1)" font-family="Liberation Serif" font-size="13.8" fill="#6170b0">2</text>
<text transform="translate(464.6 172.5) scale(0.66 1)" font-family="Liberation Serif" font-size="13.8" fill="#6170b0">0</text>
<rect x="477.3" y="196.8" width="7.9" height="13.9" rx="2.4" ry="2.4" fill="#b2bcee" stroke="#979fe0" stroke-width="1.2"/>
<text transform="translate(478.95 208.5) scale(0.66 1)" font-family="Liberation Serif" font-size="13.8" fill="#6170b0">6</text>
<circle cx="492" cy="203.5" r="4.2" fill="#000"/>
<rect x="459.3" y="224.3" width="14.9" height="12.9" rx="2.4" ry="2.4" fill="#b2bcee" stroke="#979fe0" stroke-width="1.2"/>
<text transform="translate(461.3 235) scale(0.66 1)" font-family="Liberation Serif" font-size="13.8" fill="#6170b0">1</text>
<text transform="translate(467.6 235) scale(0.66 1)" font-family="Liberation Serif" font-size="13.8" fill="#6170b0">7</text>
<rect x="406.3" y="436.3" width="15.4" height="13.9" rx="2.4" ry="2.4" fill="#b2bcee" stroke="#979fe0" stroke-width="1.2"/>
<text transform="translate(408.55 448) scale(0.66 1)" font-family="Liberation Serif" font-size="13.8" fill="#6170b0">1</text>
<text transform="translate(414.85 448) scale(0.66 1)" font-family="Liberation Serif" font-size="13.8" fill="#6170b0">6</text>
<circle cx="430" cy="443" r="4.2" fill="#000"/>
<rect x="394.3" y="526.3" width="14.9" height="13.9" rx="2.4" ry="2.4" fill="#b2bcee" stroke="#979fe0" stroke-width="1.2"/>
<text transform="translate(396.3 538) scale(0.66 1)" font-family="Liberation Serif" font-size="13.8" fill="#6170b0">2</text>
<text transform="translate(402.6 538) scale(0.66 1)" font-family="Liberation Serif" font-size="13.8" fill="#6170b0">7</text>
<circle cx="384.5" cy="534" r="4.2" fill="#000"/>
<g clip-path="url(#cutb)">
<text transform="translate(393.8 556.6) scale(0.62 1)" font-family="Liberation Serif" font-size="14.4" fill="#7e7e7e">1</text>
<text transform="translate(401 556.6) scale(0.62 1)" font-family="Liberation Serif" font-size="14.4" fill="#7e7e7e">5</text>
</g>
</g>
</g>
</svg>
</body></html>
